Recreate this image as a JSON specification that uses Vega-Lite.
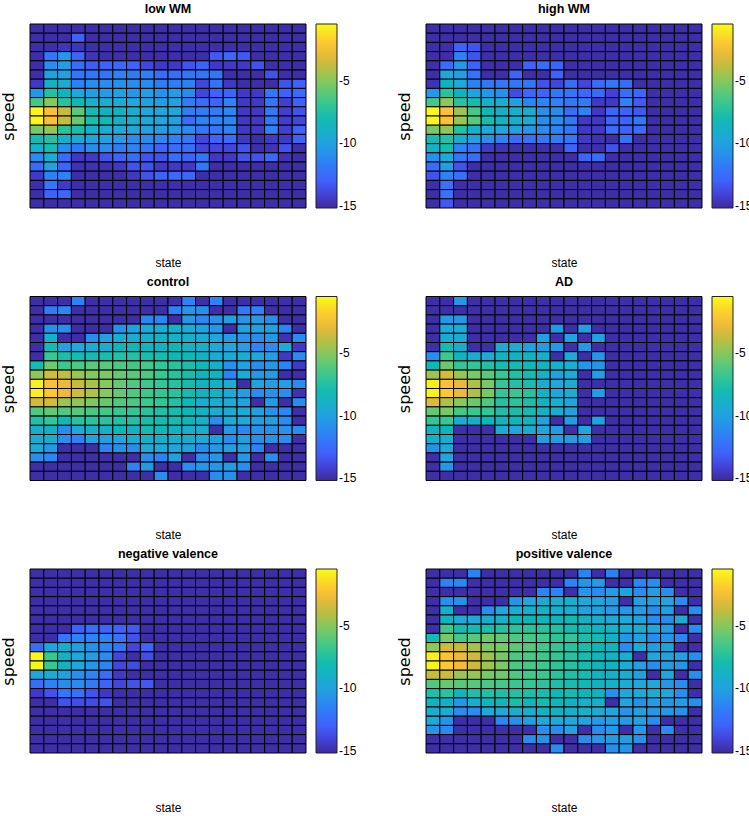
{"$schema":"https://vega.github.io/schema/vega-lite/v6.json","padding":{"left":0,"top":3,"right":0,"bottom":0},"config":{"view":{"stroke":null},"title":{"font":"Liberation Sans","fontWeight":"bold","fontSize":12.5,"color":"black","offset":8},"axis":{"labels":false,"ticks":false,"domain":false,"grid":false,"titleFontWeight":"normal","titleColor":"black"},"legend":{"gradientLength":184,"gradientThickness":21,"gradientStrokeColor":"#222","gradientStrokeWidth":1,"labelFont":"Liberation Sans","labelFontSize":12,"labelColor":"black","labelOffset":3,"orient":"none","legendX":286,"legendY":0},"rect":{"stroke":"black","strokeWidth":1}},"datasets":{
"low":[
{"state":1,"speed":1,"v":-15},{"state":2,"speed":1,"v":-15},{"state":3,"speed":1,"v":-15},{"state":4,"speed":1,"v":-15},{"state":5,"speed":1,"v":-15},{"state":6,"speed":1,"v":-15},{"state":7,"speed":1,"v":-15},{"state":8,"speed":1,"v":-15},{"state":9,"speed":1,"v":-15},{"state":10,"speed":1,"v":-15},{"state":11,"speed":1,"v":-15},{"state":12,"speed":1,"v":-15},{"state":13,"speed":1,"v":-15},{"state":14,"speed":1,"v":-15},{"state":15,"speed":1,"v":-15},{"state":16,"speed":1,"v":-15},{"state":17,"speed":1,"v":-15},{"state":18,"speed":1,"v":-15},{"state":19,"speed":1,"v":-15},{"state":20,"speed":1,"v":-15},
{"state":1,"speed":2,"v":-15},{"state":2,"speed":2,"v":-15},{"state":3,"speed":2,"v":-15},{"state":4,"speed":2,"v":-13},{"state":5,"speed":2,"v":-15},{"state":6,"speed":2,"v":-15},{"state":7,"speed":2,"v":-15},{"state":8,"speed":2,"v":-15},{"state":9,"speed":2,"v":-15},{"state":10,"speed":2,"v":-15},{"state":11,"speed":2,"v":-15},{"state":12,"speed":2,"v":-15},{"state":13,"speed":2,"v":-15},{"state":14,"speed":2,"v":-15},{"state":15,"speed":2,"v":-15},{"state":16,"speed":2,"v":-15},{"state":17,"speed":2,"v":-15},{"state":18,"speed":2,"v":-15},{"state":19,"speed":2,"v":-15},{"state":20,"speed":2,"v":-15},
{"state":1,"speed":3,"v":-15},{"state":2,"speed":3,"v":-15},{"state":3,"speed":3,"v":-14.7},{"state":4,"speed":3,"v":-14.7},{"state":5,"speed":3,"v":-15},{"state":6,"speed":3,"v":-15},{"state":7,"speed":3,"v":-15},{"state":8,"speed":3,"v":-15},{"state":9,"speed":3,"v":-15},{"state":10,"speed":3,"v":-15},{"state":11,"speed":3,"v":-15},{"state":12,"speed":3,"v":-15},{"state":13,"speed":3,"v":-15},{"state":14,"speed":3,"v":-15},{"state":15,"speed":3,"v":-15},{"state":16,"speed":3,"v":-15},{"state":17,"speed":3,"v":-15},{"state":18,"speed":3,"v":-15},{"state":19,"speed":3,"v":-15},{"state":20,"speed":3,"v":-15},
{"state":1,"speed":4,"v":-15},{"state":2,"speed":4,"v":-12},{"state":3,"speed":4,"v":-10.5},{"state":4,"speed":4,"v":-13},{"state":5,"speed":4,"v":-14.7},{"state":6,"speed":4,"v":-15},{"state":7,"speed":4,"v":-15},{"state":8,"speed":4,"v":-15},{"state":9,"speed":4,"v":-15},{"state":10,"speed":4,"v":-15},{"state":11,"speed":4,"v":-15},{"state":12,"speed":4,"v":-15},{"state":13,"speed":4,"v":-15},{"state":14,"speed":4,"v":-13.3},{"state":15,"speed":4,"v":-12.8},{"state":16,"speed":4,"v":-13.3},{"state":17,"speed":4,"v":-15},{"state":18,"speed":4,"v":-15},{"state":19,"speed":4,"v":-15},{"state":20,"speed":4,"v":-15},
{"state":1,"speed":5,"v":-15},{"state":2,"speed":5,"v":-11},{"state":3,"speed":5,"v":-10.2},{"state":4,"speed":5,"v":-12.5},{"state":5,"speed":5,"v":-13.2},{"state":6,"speed":5,"v":-13},{"state":7,"speed":5,"v":-12.7},{"state":8,"speed":5,"v":-13},{"state":9,"speed":5,"v":-14},{"state":10,"speed":5,"v":-14.5},{"state":11,"speed":5,"v":-14.5},{"state":12,"speed":5,"v":-13.5},{"state":13,"speed":5,"v":-13},{"state":14,"speed":5,"v":-14.5},{"state":15,"speed":5,"v":-14.5},{"state":16,"speed":5,"v":-14.5},{"state":17,"speed":5,"v":-13.5},{"state":18,"speed":5,"v":-15},{"state":19,"speed":5,"v":-15},{"state":20,"speed":5,"v":-15},
{"state":1,"speed":6,"v":-15},{"state":2,"speed":6,"v":-10},{"state":3,"speed":6,"v":-10},{"state":4,"speed":6,"v":-12},{"state":5,"speed":6,"v":-12},{"state":6,"speed":6,"v":-12},{"state":7,"speed":6,"v":-11.5},{"state":8,"speed":6,"v":-11.8},{"state":9,"speed":6,"v":-11.5},{"state":10,"speed":6,"v":-12.5},{"state":11,"speed":6,"v":-12.5},{"state":12,"speed":6,"v":-12},{"state":13,"speed":6,"v":-12},{"state":14,"speed":6,"v":-12},{"state":15,"speed":6,"v":-15},{"state":16,"speed":6,"v":-15},{"state":17,"speed":6,"v":-15},{"state":18,"speed":6,"v":-13.5},{"state":19,"speed":6,"v":-15},{"state":20,"speed":6,"v":-15},
{"state":1,"speed":7,"v":-14.5},{"state":2,"speed":7,"v":-8.7},{"state":3,"speed":7,"v":-9.5},{"state":4,"speed":7,"v":-11.5},{"state":5,"speed":7,"v":-11},{"state":6,"speed":7,"v":-11},{"state":7,"speed":7,"v":-10.8},{"state":8,"speed":7,"v":-11},{"state":9,"speed":7,"v":-11},{"state":10,"speed":7,"v":-11.8},{"state":11,"speed":7,"v":-11.7},{"state":12,"speed":7,"v":-11.5},{"state":13,"speed":7,"v":-14},{"state":14,"speed":7,"v":-12.2},{"state":15,"speed":7,"v":-14.5},{"state":16,"speed":7,"v":-15},{"state":17,"speed":7,"v":-15},{"state":18,"speed":7,"v":-15},{"state":19,"speed":7,"v":-13.5},{"state":20,"speed":7,"v":-13},
{"state":1,"speed":8,"v":-10.5},{"state":2,"speed":8,"v":-7.5},{"state":3,"speed":8,"v":-8.5},{"state":4,"speed":8,"v":-9.7},{"state":5,"speed":8,"v":-10.2},{"state":6,"speed":8,"v":-10.3},{"state":7,"speed":8,"v":-10},{"state":8,"speed":8,"v":-10.5},{"state":9,"speed":8,"v":-10.2},{"state":10,"speed":8,"v":-10.7},{"state":11,"speed":8,"v":-10.3},{"state":12,"speed":8,"v":-11},{"state":13,"speed":8,"v":-14},{"state":14,"speed":8,"v":-13},{"state":15,"speed":8,"v":-13},{"state":16,"speed":8,"v":-14.5},{"state":17,"speed":8,"v":-14.5},{"state":18,"speed":8,"v":-12},{"state":19,"speed":8,"v":-13},{"state":20,"speed":8,"v":-12.5},
{"state":1,"speed":9,"v":-6.5},{"state":2,"speed":9,"v":-5},{"state":3,"speed":9,"v":-7.3},{"state":4,"speed":9,"v":-8.2},{"state":5,"speed":9,"v":-9},{"state":6,"speed":9,"v":-9.2},{"state":7,"speed":9,"v":-9.5},{"state":8,"speed":9,"v":-9.7},{"state":9,"speed":9,"v":-10},{"state":10,"speed":9,"v":-10.2},{"state":11,"speed":9,"v":-10},{"state":12,"speed":9,"v":-11.8},{"state":13,"speed":9,"v":-12.5},{"state":14,"speed":9,"v":-13},{"state":15,"speed":9,"v":-11.5},{"state":16,"speed":9,"v":-14.5},{"state":17,"speed":9,"v":-14.5},{"state":18,"speed":9,"v":-12},{"state":19,"speed":9,"v":-14.3},{"state":20,"speed":9,"v":-13},
{"state":1,"speed":10,"v":-0.6},{"state":2,"speed":10,"v":-2.2},{"state":3,"speed":10,"v":-3.8},{"state":4,"speed":10,"v":-6},{"state":5,"speed":10,"v":-8},{"state":6,"speed":10,"v":-8.5},{"state":7,"speed":10,"v":-8.8},{"state":8,"speed":10,"v":-9.2},{"state":9,"speed":10,"v":-9.7},{"state":10,"speed":10,"v":-9.8},{"state":11,"speed":10,"v":-9.8},{"state":12,"speed":10,"v":-11.7},{"state":13,"speed":10,"v":-11.8},{"state":14,"speed":10,"v":-11.8},{"state":15,"speed":10,"v":-11.3},{"state":16,"speed":10,"v":-14.5},{"state":17,"speed":10,"v":-14.5},{"state":18,"speed":10,"v":-12},{"state":19,"speed":10,"v":-14.3},{"state":20,"speed":10,"v":-13.5},
{"state":1,"speed":11,"v":-0.6},{"state":2,"speed":11,"v":-2.2},{"state":3,"speed":11,"v":-3.8},{"state":4,"speed":11,"v":-5.7},{"state":5,"speed":11,"v":-7.7},{"state":6,"speed":11,"v":-8.2},{"state":7,"speed":11,"v":-8.7},{"state":8,"speed":11,"v":-9},{"state":9,"speed":11,"v":-9.5},{"state":10,"speed":11,"v":-9.8},{"state":11,"speed":11,"v":-10},{"state":12,"speed":11,"v":-12.5},{"state":13,"speed":11,"v":-11.5},{"state":14,"speed":11,"v":-11.5},{"state":15,"speed":11,"v":-11.3},{"state":16,"speed":11,"v":-14.5},{"state":17,"speed":11,"v":-14.5},{"state":18,"speed":11,"v":-12},{"state":19,"speed":11,"v":-14.3},{"state":20,"speed":11,"v":-14},
{"state":1,"speed":12,"v":-5.3},{"state":2,"speed":12,"v":-4.7},{"state":3,"speed":12,"v":-7.3},{"state":4,"speed":12,"v":-7.8},{"state":5,"speed":12,"v":-9},{"state":6,"speed":12,"v":-9.2},{"state":7,"speed":12,"v":-9.5},{"state":8,"speed":12,"v":-9.7},{"state":9,"speed":12,"v":-10},{"state":10,"speed":12,"v":-10.2},{"state":11,"speed":12,"v":-10.4},{"state":12,"speed":12,"v":-11},{"state":13,"speed":12,"v":-12},{"state":14,"speed":12,"v":-12},{"state":15,"speed":12,"v":-11.5},{"state":16,"speed":12,"v":-14.5},{"state":17,"speed":12,"v":-14.5},{"state":18,"speed":12,"v":-11.5},{"state":19,"speed":12,"v":-14.3},{"state":20,"speed":12,"v":-13},
{"state":1,"speed":13,"v":-8},{"state":2,"speed":13,"v":-7.5},{"state":3,"speed":13,"v":-9},{"state":4,"speed":13,"v":-9.5},{"state":5,"speed":13,"v":-10},{"state":6,"speed":13,"v":-10},{"state":7,"speed":13,"v":-10.3},{"state":8,"speed":13,"v":-11},{"state":9,"speed":13,"v":-11},{"state":10,"speed":13,"v":-11.2},{"state":11,"speed":13,"v":-11.5},{"state":12,"speed":13,"v":-12},{"state":13,"speed":13,"v":-14},{"state":14,"speed":13,"v":-13},{"state":15,"speed":13,"v":-12.5},{"state":16,"speed":13,"v":-14.5},{"state":17,"speed":13,"v":-15},{"state":18,"speed":13,"v":-14.5},{"state":19,"speed":13,"v":-14.5},{"state":20,"speed":13,"v":-13},
{"state":1,"speed":14,"v":-9},{"state":2,"speed":14,"v":-8},{"state":3,"speed":14,"v":-11},{"state":4,"speed":14,"v":-12},{"state":5,"speed":14,"v":-11},{"state":6,"speed":14,"v":-11},{"state":7,"speed":14,"v":-11.8},{"state":8,"speed":14,"v":-11.5},{"state":9,"speed":14,"v":-12},{"state":10,"speed":14,"v":-13},{"state":11,"speed":14,"v":-12.5},{"state":12,"speed":14,"v":-12.5},{"state":13,"speed":14,"v":-14},{"state":14,"speed":14,"v":-14},{"state":15,"speed":14,"v":-14},{"state":16,"speed":14,"v":-13.5},{"state":17,"speed":14,"v":-15},{"state":18,"speed":14,"v":-14.7},{"state":19,"speed":14,"v":-13.5},{"state":20,"speed":14,"v":-15},
{"state":1,"speed":15,"v":-11},{"state":2,"speed":15,"v":-9.2},{"state":3,"speed":15,"v":-12.5},{"state":4,"speed":15,"v":-14.5},{"state":5,"speed":15,"v":-14.5},{"state":6,"speed":15,"v":-13.5},{"state":7,"speed":15,"v":-13},{"state":8,"speed":15,"v":-12.5},{"state":9,"speed":15,"v":-13.5},{"state":10,"speed":15,"v":-13.5},{"state":11,"speed":15,"v":-12.5},{"state":12,"speed":15,"v":-13},{"state":13,"speed":15,"v":-12},{"state":14,"speed":15,"v":-14.5},{"state":15,"speed":15,"v":-14.5},{"state":16,"speed":15,"v":-13.5},{"state":17,"speed":15,"v":-13.5},{"state":18,"speed":15,"v":-12.8},{"state":19,"speed":15,"v":-14.8},{"state":20,"speed":15,"v":-15},
{"state":1,"speed":16,"v":-12.5},{"state":2,"speed":16,"v":-10},{"state":3,"speed":16,"v":-13},{"state":4,"speed":16,"v":-14.8},{"state":5,"speed":16,"v":-14.8},{"state":6,"speed":16,"v":-14.8},{"state":7,"speed":16,"v":-14.5},{"state":8,"speed":16,"v":-13.5},{"state":9,"speed":16,"v":-13.5},{"state":10,"speed":16,"v":-14.5},{"state":11,"speed":16,"v":-14.5},{"state":12,"speed":16,"v":-14.5},{"state":13,"speed":16,"v":-12},{"state":14,"speed":16,"v":-15},{"state":15,"speed":16,"v":-15},{"state":16,"speed":16,"v":-15},{"state":17,"speed":16,"v":-15},{"state":18,"speed":16,"v":-15},{"state":19,"speed":16,"v":-15},{"state":20,"speed":16,"v":-15},
{"state":1,"speed":17,"v":-14.5},{"state":2,"speed":17,"v":-11.5},{"state":3,"speed":17,"v":-11.5},{"state":4,"speed":17,"v":-15},{"state":5,"speed":17,"v":-15},{"state":6,"speed":17,"v":-15},{"state":7,"speed":17,"v":-15},{"state":8,"speed":17,"v":-14.5},{"state":9,"speed":17,"v":-13.5},{"state":10,"speed":17,"v":-13},{"state":11,"speed":17,"v":-12.8},{"state":12,"speed":17,"v":-12.8},{"state":13,"speed":17,"v":-15},{"state":14,"speed":17,"v":-15},{"state":15,"speed":17,"v":-15},{"state":16,"speed":17,"v":-15},{"state":17,"speed":17,"v":-15},{"state":18,"speed":17,"v":-15},{"state":19,"speed":17,"v":-15},{"state":20,"speed":17,"v":-15},
{"state":1,"speed":18,"v":-15},{"state":2,"speed":18,"v":-12},{"state":3,"speed":18,"v":-14.5},{"state":4,"speed":18,"v":-15},{"state":5,"speed":18,"v":-15},{"state":6,"speed":18,"v":-15},{"state":7,"speed":18,"v":-15},{"state":8,"speed":18,"v":-15},{"state":9,"speed":18,"v":-15},{"state":10,"speed":18,"v":-15},{"state":11,"speed":18,"v":-15},{"state":12,"speed":18,"v":-15},{"state":13,"speed":18,"v":-15},{"state":14,"speed":18,"v":-15},{"state":15,"speed":18,"v":-15},{"state":16,"speed":18,"v":-15},{"state":17,"speed":18,"v":-15},{"state":18,"speed":18,"v":-15},{"state":19,"speed":18,"v":-15},{"state":20,"speed":18,"v":-15},
{"state":1,"speed":19,"v":-15},{"state":2,"speed":19,"v":-13},{"state":3,"speed":19,"v":-12.8},{"state":4,"speed":19,"v":-15},{"state":5,"speed":19,"v":-15},{"state":6,"speed":19,"v":-15},{"state":7,"speed":19,"v":-15},{"state":8,"speed":19,"v":-15},{"state":9,"speed":19,"v":-15},{"state":10,"speed":19,"v":-15},{"state":11,"speed":19,"v":-15},{"state":12,"speed":19,"v":-15},{"state":13,"speed":19,"v":-15},{"state":14,"speed":19,"v":-15},{"state":15,"speed":19,"v":-15},{"state":16,"speed":19,"v":-15},{"state":17,"speed":19,"v":-15},{"state":18,"speed":19,"v":-15},{"state":19,"speed":19,"v":-15},{"state":20,"speed":19,"v":-15},
{"state":1,"speed":20,"v":-15},{"state":2,"speed":20,"v":-15},{"state":3,"speed":20,"v":-15},{"state":4,"speed":20,"v":-15},{"state":5,"speed":20,"v":-15},{"state":6,"speed":20,"v":-15},{"state":7,"speed":20,"v":-15},{"state":8,"speed":20,"v":-15},{"state":9,"speed":20,"v":-15},{"state":10,"speed":20,"v":-15},{"state":11,"speed":20,"v":-15},{"state":12,"speed":20,"v":-15},{"state":13,"speed":20,"v":-15},{"state":14,"speed":20,"v":-15},{"state":15,"speed":20,"v":-15},{"state":16,"speed":20,"v":-15},{"state":17,"speed":20,"v":-15},{"state":18,"speed":20,"v":-15},{"state":19,"speed":20,"v":-15},{"state":20,"speed":20,"v":-15}
],
"high":[
{"state":1,"speed":1,"v":-15},{"state":2,"speed":1,"v":-15},{"state":3,"speed":1,"v":-15},{"state":4,"speed":1,"v":-15},{"state":5,"speed":1,"v":-15},{"state":6,"speed":1,"v":-15},{"state":7,"speed":1,"v":-15},{"state":8,"speed":1,"v":-15},{"state":9,"speed":1,"v":-15},{"state":10,"speed":1,"v":-15},{"state":11,"speed":1,"v":-15},{"state":12,"speed":1,"v":-15},{"state":13,"speed":1,"v":-15},{"state":14,"speed":1,"v":-15},{"state":15,"speed":1,"v":-15},{"state":16,"speed":1,"v":-15},{"state":17,"speed":1,"v":-15},{"state":18,"speed":1,"v":-15},{"state":19,"speed":1,"v":-15},{"state":20,"speed":1,"v":-15},
{"state":1,"speed":2,"v":-15},{"state":2,"speed":2,"v":-15},{"state":3,"speed":2,"v":-15},{"state":4,"speed":2,"v":-15},{"state":5,"speed":2,"v":-15},{"state":6,"speed":2,"v":-15},{"state":7,"speed":2,"v":-15},{"state":8,"speed":2,"v":-15},{"state":9,"speed":2,"v":-15},{"state":10,"speed":2,"v":-15},{"state":11,"speed":2,"v":-15},{"state":12,"speed":2,"v":-15},{"state":13,"speed":2,"v":-15},{"state":14,"speed":2,"v":-15},{"state":15,"speed":2,"v":-15},{"state":16,"speed":2,"v":-15},{"state":17,"speed":2,"v":-15},{"state":18,"speed":2,"v":-15},{"state":19,"speed":2,"v":-15},{"state":20,"speed":2,"v":-15},
{"state":1,"speed":3,"v":-15},{"state":2,"speed":3,"v":-15},{"state":3,"speed":3,"v":-13},{"state":4,"speed":3,"v":-13.5},{"state":5,"speed":3,"v":-15},{"state":6,"speed":3,"v":-15},{"state":7,"speed":3,"v":-15},{"state":8,"speed":3,"v":-15},{"state":9,"speed":3,"v":-15},{"state":10,"speed":3,"v":-15},{"state":11,"speed":3,"v":-15},{"state":12,"speed":3,"v":-15},{"state":13,"speed":3,"v":-15},{"state":14,"speed":3,"v":-15},{"state":15,"speed":3,"v":-15},{"state":16,"speed":3,"v":-15},{"state":17,"speed":3,"v":-15},{"state":18,"speed":3,"v":-15},{"state":19,"speed":3,"v":-15},{"state":20,"speed":3,"v":-15},
{"state":1,"speed":4,"v":-15},{"state":2,"speed":4,"v":-15},{"state":3,"speed":4,"v":-11.5},{"state":4,"speed":4,"v":-13.5},{"state":5,"speed":4,"v":-15},{"state":6,"speed":4,"v":-15},{"state":7,"speed":4,"v":-15},{"state":8,"speed":4,"v":-15},{"state":9,"speed":4,"v":-15},{"state":10,"speed":4,"v":-15},{"state":11,"speed":4,"v":-15},{"state":12,"speed":4,"v":-15},{"state":13,"speed":4,"v":-15},{"state":14,"speed":4,"v":-15},{"state":15,"speed":4,"v":-15},{"state":16,"speed":4,"v":-15},{"state":17,"speed":4,"v":-15},{"state":18,"speed":4,"v":-15},{"state":19,"speed":4,"v":-15},{"state":20,"speed":4,"v":-15},
{"state":1,"speed":5,"v":-15},{"state":2,"speed":5,"v":-12.5},{"state":3,"speed":5,"v":-10.5},{"state":4,"speed":5,"v":-13},{"state":5,"speed":5,"v":-15},{"state":6,"speed":5,"v":-15},{"state":7,"speed":5,"v":-15},{"state":8,"speed":5,"v":-13},{"state":9,"speed":5,"v":-12.5},{"state":10,"speed":5,"v":-13},{"state":11,"speed":5,"v":-15},{"state":12,"speed":5,"v":-15},{"state":13,"speed":5,"v":-15},{"state":14,"speed":5,"v":-15},{"state":15,"speed":5,"v":-15},{"state":16,"speed":5,"v":-15},{"state":17,"speed":5,"v":-15},{"state":18,"speed":5,"v":-15},{"state":19,"speed":5,"v":-15},{"state":20,"speed":5,"v":-15},
{"state":1,"speed":6,"v":-15},{"state":2,"speed":6,"v":-9.8},{"state":3,"speed":6,"v":-10.2},{"state":4,"speed":6,"v":-12.2},{"state":5,"speed":6,"v":-15},{"state":6,"speed":6,"v":-15},{"state":7,"speed":6,"v":-13},{"state":8,"speed":6,"v":-15},{"state":9,"speed":6,"v":-15},{"state":10,"speed":6,"v":-13},{"state":11,"speed":6,"v":-15},{"state":12,"speed":6,"v":-15},{"state":13,"speed":6,"v":-15},{"state":14,"speed":6,"v":-15},{"state":15,"speed":6,"v":-15},{"state":16,"speed":6,"v":-15},{"state":17,"speed":6,"v":-15},{"state":18,"speed":6,"v":-15},{"state":19,"speed":6,"v":-15},{"state":20,"speed":6,"v":-15},
{"state":1,"speed":7,"v":-14.8},{"state":2,"speed":7,"v":-8.5},{"state":3,"speed":7,"v":-9.5},{"state":4,"speed":7,"v":-11.5},{"state":5,"speed":7,"v":-12},{"state":6,"speed":7,"v":-12},{"state":7,"speed":7,"v":-12},{"state":8,"speed":7,"v":-12},{"state":9,"speed":7,"v":-13.5},{"state":10,"speed":7,"v":-14},{"state":11,"speed":7,"v":-12.5},{"state":12,"speed":7,"v":-14},{"state":13,"speed":7,"v":-12.5},{"state":14,"speed":7,"v":-12},{"state":15,"speed":7,"v":-12.5},{"state":16,"speed":7,"v":-15},{"state":17,"speed":7,"v":-15},{"state":18,"speed":7,"v":-15},{"state":19,"speed":7,"v":-15},{"state":20,"speed":7,"v":-15},
{"state":1,"speed":8,"v":-10.5},{"state":2,"speed":8,"v":-7.3},{"state":3,"speed":8,"v":-8.5},{"state":4,"speed":8,"v":-10},{"state":5,"speed":8,"v":-10.5},{"state":6,"speed":8,"v":-10.8},{"state":7,"speed":8,"v":-13.8},{"state":8,"speed":8,"v":-12.8},{"state":9,"speed":8,"v":-13},{"state":10,"speed":8,"v":-12},{"state":11,"speed":8,"v":-12.2},{"state":12,"speed":8,"v":-12.8},{"state":13,"speed":8,"v":-12.5},{"state":14,"speed":8,"v":-14.2},{"state":15,"speed":8,"v":-12.5},{"state":16,"speed":8,"v":-12.8},{"state":17,"speed":8,"v":-15},{"state":18,"speed":8,"v":-15},{"state":19,"speed":8,"v":-15},{"state":20,"speed":8,"v":-15},
{"state":1,"speed":9,"v":-6.5},{"state":2,"speed":9,"v":-4.8},{"state":3,"speed":9,"v":-7.3},{"state":4,"speed":9,"v":-8},{"state":5,"speed":9,"v":-9},{"state":6,"speed":9,"v":-9.3},{"state":7,"speed":9,"v":-10},{"state":8,"speed":9,"v":-11.3},{"state":9,"speed":9,"v":-11.3},{"state":10,"speed":9,"v":-11.5},{"state":11,"speed":9,"v":-12},{"state":12,"speed":9,"v":-11.8},{"state":13,"speed":9,"v":-14.5},{"state":14,"speed":9,"v":-14.5},{"state":15,"speed":9,"v":-11.5},{"state":16,"speed":9,"v":-13.3},{"state":17,"speed":9,"v":-15},{"state":18,"speed":9,"v":-15},{"state":19,"speed":9,"v":-15},{"state":20,"speed":9,"v":-15},
{"state":1,"speed":10,"v":-0.6},{"state":2,"speed":10,"v":-2.2},{"state":3,"speed":10,"v":-4.5},{"state":4,"speed":10,"v":-6.5},{"state":5,"speed":10,"v":-8.2},{"state":6,"speed":10,"v":-8.8},{"state":7,"speed":10,"v":-9},{"state":8,"speed":10,"v":-9.2},{"state":9,"speed":10,"v":-10.8},{"state":10,"speed":10,"v":-11},{"state":11,"speed":10,"v":-12.5},{"state":12,"speed":10,"v":-11.5},{"state":13,"speed":10,"v":-14.5},{"state":14,"speed":10,"v":-13},{"state":15,"speed":10,"v":-13},{"state":16,"speed":10,"v":-13.3},{"state":17,"speed":10,"v":-15},{"state":18,"speed":10,"v":-15},{"state":19,"speed":10,"v":-15},{"state":20,"speed":10,"v":-15},
{"state":1,"speed":11,"v":-0.6},{"state":2,"speed":11,"v":-2.2},{"state":3,"speed":11,"v":-4.6},{"state":4,"speed":11,"v":-6},{"state":5,"speed":11,"v":-8},{"state":6,"speed":11,"v":-8.8},{"state":7,"speed":11,"v":-9},{"state":8,"speed":11,"v":-9.5},{"state":9,"speed":11,"v":-11},{"state":10,"speed":11,"v":-11},{"state":11,"speed":11,"v":-12},{"state":12,"speed":11,"v":-14.5},{"state":13,"speed":11,"v":-14.5},{"state":14,"speed":11,"v":-13},{"state":15,"speed":11,"v":-13},{"state":16,"speed":11,"v":-12},{"state":17,"speed":11,"v":-15},{"state":18,"speed":11,"v":-15},{"state":19,"speed":11,"v":-15},{"state":20,"speed":11,"v":-15},
{"state":1,"speed":12,"v":-5.3},{"state":2,"speed":12,"v":-4.8},{"state":3,"speed":12,"v":-7.5},{"state":4,"speed":12,"v":-9},{"state":5,"speed":12,"v":-9.5},{"state":6,"speed":12,"v":-9.8},{"state":7,"speed":12,"v":-10},{"state":8,"speed":12,"v":-10.5},{"state":9,"speed":12,"v":-11},{"state":10,"speed":12,"v":-11.3},{"state":11,"speed":12,"v":-12},{"state":12,"speed":12,"v":-14.5},{"state":13,"speed":12,"v":-14.5},{"state":14,"speed":12,"v":-12.5},{"state":15,"speed":12,"v":-13},{"state":16,"speed":12,"v":-12.5},{"state":17,"speed":12,"v":-15},{"state":18,"speed":12,"v":-15},{"state":19,"speed":12,"v":-15},{"state":20,"speed":12,"v":-15},
{"state":1,"speed":13,"v":-8},{"state":2,"speed":13,"v":-7.5},{"state":3,"speed":13,"v":-9},{"state":4,"speed":13,"v":-10.2},{"state":5,"speed":13,"v":-10.8},{"state":6,"speed":13,"v":-11.5},{"state":7,"speed":13,"v":-12.5},{"state":8,"speed":13,"v":-12.3},{"state":9,"speed":13,"v":-12},{"state":10,"speed":13,"v":-11.8},{"state":11,"speed":13,"v":-12},{"state":12,"speed":13,"v":-14.5},{"state":13,"speed":13,"v":-14.8},{"state":14,"speed":13,"v":-15},{"state":15,"speed":13,"v":-12.3},{"state":16,"speed":13,"v":-15},{"state":17,"speed":13,"v":-15},{"state":18,"speed":13,"v":-15},{"state":19,"speed":13,"v":-15},{"state":20,"speed":13,"v":-15},
{"state":1,"speed":14,"v":-9},{"state":2,"speed":14,"v":-8},{"state":3,"speed":14,"v":-11.5},{"state":4,"speed":14,"v":-12.3},{"state":5,"speed":14,"v":-14.5},{"state":6,"speed":14,"v":-14.8},{"state":7,"speed":14,"v":-15},{"state":8,"speed":14,"v":-15},{"state":9,"speed":14,"v":-15},{"state":10,"speed":14,"v":-15},{"state":11,"speed":14,"v":-13},{"state":12,"speed":14,"v":-15},{"state":13,"speed":14,"v":-15},{"state":14,"speed":14,"v":-13.5},{"state":15,"speed":14,"v":-15},{"state":16,"speed":14,"v":-15},{"state":17,"speed":14,"v":-15},{"state":18,"speed":14,"v":-15},{"state":19,"speed":14,"v":-15},{"state":20,"speed":14,"v":-15},
{"state":1,"speed":15,"v":-10.8},{"state":2,"speed":15,"v":-9.5},{"state":3,"speed":15,"v":-12},{"state":4,"speed":15,"v":-12.5},{"state":5,"speed":15,"v":-15},{"state":6,"speed":15,"v":-15},{"state":7,"speed":15,"v":-15},{"state":8,"speed":15,"v":-15},{"state":9,"speed":15,"v":-15},{"state":10,"speed":15,"v":-15},{"state":11,"speed":15,"v":-15},{"state":12,"speed":15,"v":-13},{"state":13,"speed":15,"v":-12.5},{"state":14,"speed":15,"v":-15},{"state":15,"speed":15,"v":-15},{"state":16,"speed":15,"v":-15},{"state":17,"speed":15,"v":-15},{"state":18,"speed":15,"v":-15},{"state":19,"speed":15,"v":-15},{"state":20,"speed":15,"v":-15},
{"state":1,"speed":16,"v":-12.5},{"state":2,"speed":16,"v":-10.3},{"state":3,"speed":16,"v":-13.5},{"state":4,"speed":16,"v":-15},{"state":5,"speed":16,"v":-15},{"state":6,"speed":16,"v":-15},{"state":7,"speed":16,"v":-15},{"state":8,"speed":16,"v":-15},{"state":9,"speed":16,"v":-15},{"state":10,"speed":16,"v":-15},{"state":11,"speed":16,"v":-15},{"state":12,"speed":16,"v":-15},{"state":13,"speed":16,"v":-15},{"state":14,"speed":16,"v":-15},{"state":15,"speed":16,"v":-15},{"state":16,"speed":16,"v":-15},{"state":17,"speed":16,"v":-15},{"state":18,"speed":16,"v":-15},{"state":19,"speed":16,"v":-15},{"state":20,"speed":16,"v":-15},
{"state":1,"speed":17,"v":-13.5},{"state":2,"speed":17,"v":-11.5},{"state":3,"speed":17,"v":-12.3},{"state":4,"speed":17,"v":-15},{"state":5,"speed":17,"v":-15},{"state":6,"speed":17,"v":-15},{"state":7,"speed":17,"v":-15},{"state":8,"speed":17,"v":-15},{"state":9,"speed":17,"v":-15},{"state":10,"speed":17,"v":-15},{"state":11,"speed":17,"v":-15},{"state":12,"speed":17,"v":-15},{"state":13,"speed":17,"v":-15},{"state":14,"speed":17,"v":-15},{"state":15,"speed":17,"v":-15},{"state":16,"speed":17,"v":-15},{"state":17,"speed":17,"v":-15},{"state":18,"speed":17,"v":-15},{"state":19,"speed":17,"v":-15},{"state":20,"speed":17,"v":-15},
{"state":1,"speed":18,"v":-15},{"state":2,"speed":18,"v":-12.3},{"state":3,"speed":18,"v":-15},{"state":4,"speed":18,"v":-15},{"state":5,"speed":18,"v":-15},{"state":6,"speed":18,"v":-15},{"state":7,"speed":18,"v":-15},{"state":8,"speed":18,"v":-15},{"state":9,"speed":18,"v":-15},{"state":10,"speed":18,"v":-15},{"state":11,"speed":18,"v":-15},{"state":12,"speed":18,"v":-15},{"state":13,"speed":18,"v":-15},{"state":14,"speed":18,"v":-15},{"state":15,"speed":18,"v":-15},{"state":16,"speed":18,"v":-15},{"state":17,"speed":18,"v":-15},{"state":18,"speed":18,"v":-15},{"state":19,"speed":18,"v":-15},{"state":20,"speed":18,"v":-15},
{"state":1,"speed":19,"v":-15},{"state":2,"speed":19,"v":-12.2},{"state":3,"speed":19,"v":-15},{"state":4,"speed":19,"v":-15},{"state":5,"speed":19,"v":-15},{"state":6,"speed":19,"v":-15},{"state":7,"speed":19,"v":-15},{"state":8,"speed":19,"v":-15},{"state":9,"speed":19,"v":-15},{"state":10,"speed":19,"v":-15},{"state":11,"speed":19,"v":-15},{"state":12,"speed":19,"v":-15},{"state":13,"speed":19,"v":-15},{"state":14,"speed":19,"v":-15},{"state":15,"speed":19,"v":-15},{"state":16,"speed":19,"v":-15},{"state":17,"speed":19,"v":-15},{"state":18,"speed":19,"v":-15},{"state":19,"speed":19,"v":-15},{"state":20,"speed":19,"v":-15},
{"state":1,"speed":20,"v":-15},{"state":2,"speed":20,"v":-13.3},{"state":3,"speed":20,"v":-15},{"state":4,"speed":20,"v":-15},{"state":5,"speed":20,"v":-15},{"state":6,"speed":20,"v":-15},{"state":7,"speed":20,"v":-15},{"state":8,"speed":20,"v":-15},{"state":9,"speed":20,"v":-15},{"state":10,"speed":20,"v":-15},{"state":11,"speed":20,"v":-15},{"state":12,"speed":20,"v":-15},{"state":13,"speed":20,"v":-15},{"state":14,"speed":20,"v":-15},{"state":15,"speed":20,"v":-15},{"state":16,"speed":20,"v":-15},{"state":17,"speed":20,"v":-15},{"state":18,"speed":20,"v":-15},{"state":19,"speed":20,"v":-15},{"state":20,"speed":20,"v":-15}
],
"control":[
{"state":1,"speed":1,"v":-15},{"state":2,"speed":1,"v":-15},{"state":3,"speed":1,"v":-15},{"state":4,"speed":1,"v":-11.5},{"state":5,"speed":1,"v":-15},{"state":6,"speed":1,"v":-15},{"state":7,"speed":1,"v":-15},{"state":8,"speed":1,"v":-15},{"state":9,"speed":1,"v":-15},{"state":10,"speed":1,"v":-15},{"state":11,"speed":1,"v":-15},{"state":12,"speed":1,"v":-11.5},{"state":13,"speed":1,"v":-15},{"state":14,"speed":1,"v":-11.5},{"state":15,"speed":1,"v":-15},{"state":16,"speed":1,"v":-15},{"state":17,"speed":1,"v":-15},{"state":18,"speed":1,"v":-15},{"state":19,"speed":1,"v":-15},{"state":20,"speed":1,"v":-15},
{"state":1,"speed":2,"v":-15},{"state":2,"speed":2,"v":-11.8},{"state":3,"speed":2,"v":-11.2},{"state":4,"speed":2,"v":-15},{"state":5,"speed":2,"v":-15},{"state":6,"speed":2,"v":-15},{"state":7,"speed":2,"v":-15},{"state":8,"speed":2,"v":-15},{"state":9,"speed":2,"v":-15},{"state":10,"speed":2,"v":-15},{"state":11,"speed":2,"v":-11.5},{"state":12,"speed":2,"v":-10.5},{"state":13,"speed":2,"v":-10.8},{"state":14,"speed":2,"v":-15},{"state":15,"speed":2,"v":-15},{"state":16,"speed":2,"v":-12},{"state":17,"speed":2,"v":-11.5},{"state":18,"speed":2,"v":-15},{"state":19,"speed":2,"v":-15},{"state":20,"speed":2,"v":-15},
{"state":1,"speed":3,"v":-15},{"state":2,"speed":3,"v":-15},{"state":3,"speed":3,"v":-15},{"state":4,"speed":3,"v":-15},{"state":5,"speed":3,"v":-15},{"state":6,"speed":3,"v":-15},{"state":7,"speed":3,"v":-15},{"state":8,"speed":3,"v":-15},{"state":9,"speed":3,"v":-11.3},{"state":10,"speed":3,"v":-11.3},{"state":11,"speed":3,"v":-15},{"state":12,"speed":3,"v":-10.5},{"state":13,"speed":3,"v":-11.2},{"state":14,"speed":3,"v":-10.7},{"state":15,"speed":3,"v":-10.2},{"state":16,"speed":3,"v":-10.7},{"state":17,"speed":3,"v":-10.3},{"state":18,"speed":3,"v":-11},{"state":19,"speed":3,"v":-15},{"state":20,"speed":3,"v":-15},
{"state":1,"speed":4,"v":-15},{"state":2,"speed":4,"v":-11},{"state":3,"speed":4,"v":-11},{"state":4,"speed":4,"v":-15},{"state":5,"speed":4,"v":-15},{"state":6,"speed":4,"v":-15},{"state":7,"speed":4,"v":-10.8},{"state":8,"speed":4,"v":-10},{"state":9,"speed":4,"v":-9.5},{"state":10,"speed":4,"v":-9.5},{"state":11,"speed":4,"v":-9},{"state":12,"speed":4,"v":-9.5},{"state":13,"speed":4,"v":-10},{"state":14,"speed":4,"v":-10.5},{"state":15,"speed":4,"v":-15},{"state":16,"speed":4,"v":-10},{"state":17,"speed":4,"v":-10},{"state":18,"speed":4,"v":-10},{"state":19,"speed":4,"v":-11.5},{"state":20,"speed":4,"v":-15},
{"state":1,"speed":5,"v":-15},{"state":2,"speed":5,"v":-9},{"state":3,"speed":5,"v":-15},{"state":4,"speed":5,"v":-15},{"state":5,"speed":5,"v":-11},{"state":6,"speed":5,"v":-10},{"state":7,"speed":5,"v":-9.3},{"state":8,"speed":5,"v":-9.2},{"state":9,"speed":5,"v":-9},{"state":10,"speed":5,"v":-8.8},{"state":11,"speed":5,"v":-9},{"state":12,"speed":5,"v":-9},{"state":13,"speed":5,"v":-9.5},{"state":14,"speed":5,"v":-9.8},{"state":15,"speed":5,"v":-10.3},{"state":16,"speed":5,"v":-10.7},{"state":17,"speed":5,"v":-11},{"state":18,"speed":5,"v":-10.5},{"state":19,"speed":5,"v":-14.8},{"state":20,"speed":5,"v":-11},
{"state":1,"speed":6,"v":-15},{"state":2,"speed":6,"v":-8},{"state":3,"speed":6,"v":-10},{"state":4,"speed":6,"v":-9.7},{"state":5,"speed":6,"v":-9.5},{"state":6,"speed":6,"v":-9.3},{"state":7,"speed":6,"v":-8.5},{"state":8,"speed":6,"v":-8.3},{"state":9,"speed":6,"v":-8.5},{"state":10,"speed":6,"v":-8.5},{"state":11,"speed":6,"v":-8.3},{"state":12,"speed":6,"v":-8.7},{"state":13,"speed":6,"v":-9},{"state":14,"speed":6,"v":-9.5},{"state":15,"speed":6,"v":-9.7},{"state":16,"speed":6,"v":-10.2},{"state":17,"speed":6,"v":-11.3},{"state":18,"speed":6,"v":-11},{"state":19,"speed":6,"v":-9.5},{"state":20,"speed":6,"v":-14.5},
{"state":1,"speed":7,"v":-15},{"state":2,"speed":7,"v":-6.8},{"state":3,"speed":7,"v":-7.7},{"state":4,"speed":7,"v":-8},{"state":5,"speed":7,"v":-8},{"state":6,"speed":7,"v":-7.8},{"state":7,"speed":7,"v":-7.5},{"state":8,"speed":7,"v":-7.5},{"state":9,"speed":7,"v":-7.8},{"state":10,"speed":7,"v":-8},{"state":11,"speed":7,"v":-8.2},{"state":12,"speed":7,"v":-8.2},{"state":13,"speed":7,"v":-8.7},{"state":14,"speed":7,"v":-9.5},{"state":15,"speed":7,"v":-9.5},{"state":16,"speed":7,"v":-9.2},{"state":17,"speed":7,"v":-9.7},{"state":18,"speed":7,"v":-10.2},{"state":19,"speed":7,"v":-14.5},{"state":20,"speed":7,"v":-11},
{"state":1,"speed":8,"v":-8},{"state":2,"speed":8,"v":-5.5},{"state":3,"speed":8,"v":-6.7},{"state":4,"speed":8,"v":-6.3},{"state":5,"speed":8,"v":-6},{"state":6,"speed":8,"v":-6},{"state":7,"speed":8,"v":-6.3},{"state":8,"speed":8,"v":-6.5},{"state":9,"speed":8,"v":-6.5},{"state":10,"speed":8,"v":-7},{"state":11,"speed":8,"v":-7.3},{"state":12,"speed":8,"v":-7.7},{"state":13,"speed":8,"v":-8.1},{"state":14,"speed":8,"v":-9},{"state":15,"speed":8,"v":-10.8},{"state":16,"speed":8,"v":-10},{"state":17,"speed":8,"v":-11},{"state":18,"speed":8,"v":-10.5},{"state":19,"speed":8,"v":-11.5},{"state":20,"speed":8,"v":-14.5},
{"state":1,"speed":9,"v":-4.8},{"state":2,"speed":9,"v":-3.5},{"state":3,"speed":9,"v":-3.8},{"state":4,"speed":9,"v":-4.6},{"state":5,"speed":9,"v":-5},{"state":6,"speed":9,"v":-5.2},{"state":7,"speed":9,"v":-5.7},{"state":8,"speed":9,"v":-6},{"state":9,"speed":9,"v":-6.3},{"state":10,"speed":9,"v":-6.8},{"state":11,"speed":9,"v":-7.3},{"state":12,"speed":9,"v":-7.8},{"state":13,"speed":9,"v":-8.5},{"state":14,"speed":9,"v":-8.5},{"state":15,"speed":9,"v":-11.5},{"state":16,"speed":9,"v":-9.5},{"state":17,"speed":9,"v":-10.5},{"state":18,"speed":9,"v":-10.3},{"state":19,"speed":9,"v":-15},{"state":20,"speed":9,"v":-15},
{"state":1,"speed":10,"v":-0.8},{"state":2,"speed":10,"v":-2.2},{"state":3,"speed":10,"v":-2.8},{"state":4,"speed":10,"v":-3.7},{"state":5,"speed":10,"v":-4.3},{"state":6,"speed":10,"v":-5},{"state":7,"speed":10,"v":-5.7},{"state":8,"speed":10,"v":-6.2},{"state":9,"speed":10,"v":-6.6},{"state":10,"speed":10,"v":-7},{"state":11,"speed":10,"v":-7.4},{"state":12,"speed":10,"v":-8},{"state":13,"speed":10,"v":-8.6},{"state":14,"speed":10,"v":-8.8},{"state":15,"speed":10,"v":-9.3},{"state":16,"speed":10,"v":-15},{"state":17,"speed":10,"v":-10},{"state":18,"speed":10,"v":-10.2},{"state":19,"speed":10,"v":-10.2},{"state":20,"speed":10,"v":-11},
{"state":1,"speed":11,"v":-0.8},{"state":2,"speed":11,"v":-1.9},{"state":3,"speed":11,"v":-2.7},{"state":4,"speed":11,"v":-3.5},{"state":5,"speed":11,"v":-4.2},{"state":6,"speed":11,"v":-5},{"state":7,"speed":11,"v":-5.7},{"state":8,"speed":11,"v":-6.3},{"state":9,"speed":11,"v":-6.7},{"state":10,"speed":11,"v":-7},{"state":11,"speed":11,"v":-7.3},{"state":12,"speed":11,"v":-8},{"state":13,"speed":11,"v":-8.5},{"state":14,"speed":11,"v":-8.7},{"state":15,"speed":11,"v":-9.5},{"state":16,"speed":11,"v":-10.2},{"state":17,"speed":11,"v":-11},{"state":18,"speed":11,"v":-10.7},{"state":19,"speed":11,"v":-10.8},{"state":20,"speed":11,"v":-14.8},
{"state":1,"speed":12,"v":-3.5},{"state":2,"speed":12,"v":-3.5},{"state":3,"speed":12,"v":-4.6},{"state":4,"speed":12,"v":-4.8},{"state":5,"speed":12,"v":-5.2},{"state":6,"speed":12,"v":-5.7},{"state":7,"speed":12,"v":-6.2},{"state":8,"speed":12,"v":-6.4},{"state":9,"speed":12,"v":-6.7},{"state":10,"speed":12,"v":-7},{"state":11,"speed":12,"v":-7.5},{"state":12,"speed":12,"v":-8.2},{"state":13,"speed":12,"v":-9.3},{"state":14,"speed":12,"v":-9.2},{"state":15,"speed":12,"v":-9.5},{"state":16,"speed":12,"v":-10},{"state":17,"speed":12,"v":-15},{"state":18,"speed":12,"v":-10.3},{"state":19,"speed":12,"v":-15},{"state":20,"speed":12,"v":-11},
{"state":1,"speed":13,"v":-6.2},{"state":2,"speed":13,"v":-5.8},{"state":3,"speed":13,"v":-6.2},{"state":4,"speed":13,"v":-6.1},{"state":5,"speed":13,"v":-6.4},{"state":6,"speed":13,"v":-6.6},{"state":7,"speed":13,"v":-6.8},{"state":8,"speed":13,"v":-7},{"state":9,"speed":13,"v":-7.3},{"state":10,"speed":13,"v":-7.6},{"state":11,"speed":13,"v":-8},{"state":12,"speed":13,"v":-8.3},{"state":13,"speed":13,"v":-8.8},{"state":14,"speed":13,"v":-9.2},{"state":15,"speed":13,"v":-9.4},{"state":16,"speed":13,"v":-9.5},{"state":17,"speed":13,"v":-10},{"state":18,"speed":13,"v":-10.7},{"state":19,"speed":13,"v":-11.2},{"state":20,"speed":13,"v":-15},
{"state":1,"speed":14,"v":-7.5},{"state":2,"speed":14,"v":-7},{"state":3,"speed":14,"v":-8.2},{"state":4,"speed":14,"v":-7.2},{"state":5,"speed":14,"v":-7.2},{"state":6,"speed":14,"v":-7.3},{"state":7,"speed":14,"v":-7.5},{"state":8,"speed":14,"v":-7.5},{"state":9,"speed":14,"v":-7.8},{"state":10,"speed":14,"v":-8},{"state":11,"speed":14,"v":-8},{"state":12,"speed":14,"v":-8.3},{"state":13,"speed":14,"v":-9},{"state":14,"speed":14,"v":-11},{"state":15,"speed":14,"v":-9.5},{"state":16,"speed":14,"v":-9.7},{"state":17,"speed":14,"v":-10.2},{"state":18,"speed":14,"v":-10.2},{"state":19,"speed":14,"v":-11},{"state":20,"speed":14,"v":-15},
{"state":1,"speed":15,"v":-9},{"state":2,"speed":15,"v":-8.7},{"state":3,"speed":15,"v":-11},{"state":4,"speed":15,"v":-9.5},{"state":5,"speed":15,"v":-9},{"state":6,"speed":15,"v":-9},{"state":7,"speed":15,"v":-8.3},{"state":8,"speed":15,"v":-8.8},{"state":9,"speed":15,"v":-8},{"state":10,"speed":15,"v":-8.2},{"state":11,"speed":15,"v":-8.6},{"state":12,"speed":15,"v":-9},{"state":13,"speed":15,"v":-9.2},{"state":14,"speed":15,"v":-15},{"state":15,"speed":15,"v":-10.5},{"state":16,"speed":15,"v":-11.2},{"state":17,"speed":15,"v":-10.7},{"state":18,"speed":15,"v":-10.8},{"state":19,"speed":15,"v":-10.7},{"state":20,"speed":15,"v":-11},
{"state":1,"speed":16,"v":-9.3},{"state":2,"speed":16,"v":-9.2},{"state":3,"speed":16,"v":-11},{"state":4,"speed":16,"v":-11.5},{"state":5,"speed":16,"v":-10},{"state":6,"speed":16,"v":-10},{"state":7,"speed":16,"v":-9.8},{"state":8,"speed":16,"v":-9.2},{"state":9,"speed":16,"v":-9},{"state":10,"speed":16,"v":-9},{"state":11,"speed":16,"v":-9.2},{"state":12,"speed":16,"v":-9.2},{"state":13,"speed":16,"v":-9.5},{"state":14,"speed":16,"v":-10},{"state":15,"speed":16,"v":-11},{"state":16,"speed":16,"v":-10.2},{"state":17,"speed":16,"v":-10.8},{"state":18,"speed":16,"v":-10.7},{"state":19,"speed":16,"v":-11},{"state":20,"speed":16,"v":-15},
{"state":1,"speed":17,"v":-9.5},{"state":2,"speed":17,"v":-10.5},{"state":3,"speed":17,"v":-15},{"state":4,"speed":17,"v":-15},{"state":5,"speed":17,"v":-15},{"state":6,"speed":17,"v":-11.5},{"state":7,"speed":17,"v":-10.8},{"state":8,"speed":17,"v":-11},{"state":9,"speed":17,"v":-9.5},{"state":10,"speed":17,"v":-9.5},{"state":11,"speed":17,"v":-9.8},{"state":12,"speed":17,"v":-10},{"state":13,"speed":17,"v":-11},{"state":14,"speed":17,"v":-10.5},{"state":15,"speed":17,"v":-10.2},{"state":16,"speed":17,"v":-10.2},{"state":17,"speed":17,"v":-11.5},{"state":18,"speed":17,"v":-15},{"state":19,"speed":17,"v":-15},{"state":20,"speed":17,"v":-15},
{"state":1,"speed":18,"v":-10.8},{"state":2,"speed":18,"v":-11.3},{"state":3,"speed":18,"v":-15},{"state":4,"speed":18,"v":-15},{"state":5,"speed":18,"v":-15},{"state":6,"speed":18,"v":-15},{"state":7,"speed":18,"v":-15},{"state":8,"speed":18,"v":-15},{"state":9,"speed":18,"v":-11},{"state":10,"speed":18,"v":-11.5},{"state":11,"speed":18,"v":-10},{"state":12,"speed":18,"v":-15},{"state":13,"speed":18,"v":-11},{"state":14,"speed":18,"v":-10.5},{"state":15,"speed":18,"v":-15},{"state":16,"speed":18,"v":-10.5},{"state":17,"speed":18,"v":-15},{"state":18,"speed":18,"v":-11},{"state":19,"speed":18,"v":-15},{"state":20,"speed":18,"v":-15},
{"state":1,"speed":19,"v":-15},{"state":2,"speed":19,"v":-15},{"state":3,"speed":19,"v":-15},{"state":4,"speed":19,"v":-15},{"state":5,"speed":19,"v":-15},{"state":6,"speed":19,"v":-15},{"state":7,"speed":19,"v":-15},{"state":8,"speed":19,"v":-11.5},{"state":9,"speed":19,"v":-10.5},{"state":10,"speed":19,"v":-15},{"state":11,"speed":19,"v":-15},{"state":12,"speed":19,"v":-11},{"state":13,"speed":19,"v":-10.5},{"state":14,"speed":19,"v":-10.5},{"state":15,"speed":19,"v":-10.3},{"state":16,"speed":19,"v":-11},{"state":17,"speed":19,"v":-15},{"state":18,"speed":19,"v":-15},{"state":19,"speed":19,"v":-15},{"state":20,"speed":19,"v":-15},
{"state":1,"speed":20,"v":-15},{"state":2,"speed":20,"v":-15},{"state":3,"speed":20,"v":-15},{"state":4,"speed":20,"v":-15},{"state":5,"speed":20,"v":-15},{"state":6,"speed":20,"v":-15},{"state":7,"speed":20,"v":-15},{"state":8,"speed":20,"v":-15},{"state":9,"speed":20,"v":-15},{"state":10,"speed":20,"v":-11},{"state":11,"speed":20,"v":-15},{"state":12,"speed":20,"v":-15},{"state":13,"speed":20,"v":-15},{"state":14,"speed":20,"v":-11},{"state":15,"speed":20,"v":-10.8},{"state":16,"speed":20,"v":-15},{"state":17,"speed":20,"v":-15},{"state":18,"speed":20,"v":-15},{"state":19,"speed":20,"v":-15},{"state":20,"speed":20,"v":-15}
],
"ad":[
{"state":1,"speed":1,"v":-15},{"state":2,"speed":1,"v":-15},{"state":3,"speed":1,"v":-10.5},{"state":4,"speed":1,"v":-15},{"state":5,"speed":1,"v":-15},{"state":6,"speed":1,"v":-15},{"state":7,"speed":1,"v":-15},{"state":8,"speed":1,"v":-15},{"state":9,"speed":1,"v":-15},{"state":10,"speed":1,"v":-15},{"state":11,"speed":1,"v":-15},{"state":12,"speed":1,"v":-15},{"state":13,"speed":1,"v":-15},{"state":14,"speed":1,"v":-15},{"state":15,"speed":1,"v":-15},{"state":16,"speed":1,"v":-15},{"state":17,"speed":1,"v":-15},{"state":18,"speed":1,"v":-15},{"state":19,"speed":1,"v":-15},{"state":20,"speed":1,"v":-15},
{"state":1,"speed":2,"v":-15},{"state":2,"speed":2,"v":-15},{"state":3,"speed":2,"v":-15},{"state":4,"speed":2,"v":-15},{"state":5,"speed":2,"v":-15},{"state":6,"speed":2,"v":-15},{"state":7,"speed":2,"v":-15},{"state":8,"speed":2,"v":-15},{"state":9,"speed":2,"v":-15},{"state":10,"speed":2,"v":-15},{"state":11,"speed":2,"v":-15},{"state":12,"speed":2,"v":-15},{"state":13,"speed":2,"v":-15},{"state":14,"speed":2,"v":-15},{"state":15,"speed":2,"v":-15},{"state":16,"speed":2,"v":-15},{"state":17,"speed":2,"v":-15},{"state":18,"speed":2,"v":-15},{"state":19,"speed":2,"v":-15},{"state":20,"speed":2,"v":-15},
{"state":1,"speed":3,"v":-15},{"state":2,"speed":3,"v":-10.5},{"state":3,"speed":3,"v":-10.5},{"state":4,"speed":3,"v":-15},{"state":5,"speed":3,"v":-15},{"state":6,"speed":3,"v":-15},{"state":7,"speed":3,"v":-15},{"state":8,"speed":3,"v":-15},{"state":9,"speed":3,"v":-15},{"state":10,"speed":3,"v":-15},{"state":11,"speed":3,"v":-15},{"state":12,"speed":3,"v":-15},{"state":13,"speed":3,"v":-15},{"state":14,"speed":3,"v":-15},{"state":15,"speed":3,"v":-15},{"state":16,"speed":3,"v":-15},{"state":17,"speed":3,"v":-15},{"state":18,"speed":3,"v":-15},{"state":19,"speed":3,"v":-15},{"state":20,"speed":3,"v":-15},
{"state":1,"speed":4,"v":-15},{"state":2,"speed":4,"v":-9.5},{"state":3,"speed":4,"v":-9.5},{"state":4,"speed":4,"v":-15},{"state":5,"speed":4,"v":-15},{"state":6,"speed":4,"v":-15},{"state":7,"speed":4,"v":-15},{"state":8,"speed":4,"v":-15},{"state":9,"speed":4,"v":-15},{"state":10,"speed":4,"v":-10.5},{"state":11,"speed":4,"v":-15},{"state":12,"speed":4,"v":-10.3},{"state":13,"speed":4,"v":-15},{"state":14,"speed":4,"v":-15},{"state":15,"speed":4,"v":-15},{"state":16,"speed":4,"v":-15},{"state":17,"speed":4,"v":-15},{"state":18,"speed":4,"v":-15},{"state":19,"speed":4,"v":-15},{"state":20,"speed":4,"v":-15},
{"state":1,"speed":5,"v":-15},{"state":2,"speed":5,"v":-9.3},{"state":3,"speed":5,"v":-9.5},{"state":4,"speed":5,"v":-15},{"state":5,"speed":5,"v":-15},{"state":6,"speed":5,"v":-15},{"state":7,"speed":5,"v":-15},{"state":8,"speed":5,"v":-15},{"state":9,"speed":5,"v":-10},{"state":10,"speed":5,"v":-15},{"state":11,"speed":5,"v":-10},{"state":12,"speed":5,"v":-15},{"state":13,"speed":5,"v":-10},{"state":14,"speed":5,"v":-15},{"state":15,"speed":5,"v":-15},{"state":16,"speed":5,"v":-15},{"state":17,"speed":5,"v":-15},{"state":18,"speed":5,"v":-15},{"state":19,"speed":5,"v":-15},{"state":20,"speed":5,"v":-15},
{"state":1,"speed":6,"v":-15},{"state":2,"speed":6,"v":-8},{"state":3,"speed":6,"v":-9.2},{"state":4,"speed":6,"v":-15},{"state":5,"speed":6,"v":-15},{"state":6,"speed":6,"v":-9.5},{"state":7,"speed":6,"v":-9.3},{"state":8,"speed":6,"v":-10},{"state":9,"speed":6,"v":-10.3},{"state":10,"speed":6,"v":-10.5},{"state":11,"speed":6,"v":-15},{"state":12,"speed":6,"v":-10.5},{"state":13,"speed":6,"v":-15},{"state":14,"speed":6,"v":-15},{"state":15,"speed":6,"v":-15},{"state":16,"speed":6,"v":-15},{"state":17,"speed":6,"v":-15},{"state":18,"speed":6,"v":-15},{"state":19,"speed":6,"v":-15},{"state":20,"speed":6,"v":-15},
{"state":1,"speed":7,"v":-11},{"state":2,"speed":7,"v":-6.6},{"state":3,"speed":7,"v":-8.5},{"state":4,"speed":7,"v":-9.3},{"state":5,"speed":7,"v":-9.3},{"state":6,"speed":7,"v":-8.5},{"state":7,"speed":7,"v":-8.5},{"state":8,"speed":7,"v":-8.5},{"state":9,"speed":7,"v":-9},{"state":10,"speed":7,"v":-15},{"state":11,"speed":7,"v":-9.6},{"state":12,"speed":7,"v":-15},{"state":13,"speed":7,"v":-10.5},{"state":14,"speed":7,"v":-15},{"state":15,"speed":7,"v":-15},{"state":16,"speed":7,"v":-15},{"state":17,"speed":7,"v":-15},{"state":18,"speed":7,"v":-15},{"state":19,"speed":7,"v":-15},{"state":20,"speed":7,"v":-15},
{"state":1,"speed":8,"v":-8.2},{"state":2,"speed":8,"v":-5.5},{"state":3,"speed":8,"v":-7},{"state":4,"speed":8,"v":-7},{"state":5,"speed":8,"v":-7.5},{"state":6,"speed":8,"v":-8},{"state":7,"speed":8,"v":-8},{"state":8,"speed":8,"v":-8.2},{"state":9,"speed":8,"v":-8.5},{"state":10,"speed":8,"v":-9},{"state":11,"speed":8,"v":-9.2},{"state":12,"speed":8,"v":-10.5},{"state":13,"speed":8,"v":-10.5},{"state":14,"speed":8,"v":-15},{"state":15,"speed":8,"v":-15},{"state":16,"speed":8,"v":-15},{"state":17,"speed":8,"v":-15},{"state":18,"speed":8,"v":-15},{"state":19,"speed":8,"v":-15},{"state":20,"speed":8,"v":-15},
{"state":1,"speed":9,"v":-4.5},{"state":2,"speed":9,"v":-3.4},{"state":3,"speed":9,"v":-4.6},{"state":4,"speed":9,"v":-5.3},{"state":5,"speed":9,"v":-6},{"state":6,"speed":9,"v":-6.8},{"state":7,"speed":9,"v":-7.5},{"state":8,"speed":9,"v":-8},{"state":9,"speed":9,"v":-9},{"state":10,"speed":9,"v":-10},{"state":11,"speed":9,"v":-9.5},{"state":12,"speed":9,"v":-15},{"state":13,"speed":9,"v":-10.2},{"state":14,"speed":9,"v":-15},{"state":15,"speed":9,"v":-15},{"state":16,"speed":9,"v":-15},{"state":17,"speed":9,"v":-15},{"state":18,"speed":9,"v":-15},{"state":19,"speed":9,"v":-15},{"state":20,"speed":9,"v":-15},
{"state":1,"speed":10,"v":-0.8},{"state":2,"speed":10,"v":-2.2},{"state":3,"speed":10,"v":-2.8},{"state":4,"speed":10,"v":-4.3},{"state":5,"speed":10,"v":-5.3},{"state":6,"speed":10,"v":-7},{"state":7,"speed":10,"v":-7.5},{"state":8,"speed":10,"v":-7.8},{"state":9,"speed":10,"v":-9.3},{"state":10,"speed":10,"v":-9.7},{"state":11,"speed":10,"v":-9.3},{"state":12,"speed":10,"v":-15},{"state":13,"speed":10,"v":-15},{"state":14,"speed":10,"v":-15},{"state":15,"speed":10,"v":-15},{"state":16,"speed":10,"v":-15},{"state":17,"speed":10,"v":-15},{"state":18,"speed":10,"v":-15},{"state":19,"speed":10,"v":-15},{"state":20,"speed":10,"v":-15},
{"state":1,"speed":11,"v":-0.7},{"state":2,"speed":11,"v":-2},{"state":3,"speed":11,"v":-2.8},{"state":4,"speed":11,"v":-4.2},{"state":5,"speed":11,"v":-5.3},{"state":6,"speed":11,"v":-7},{"state":7,"speed":11,"v":-6.8},{"state":8,"speed":11,"v":-7.3},{"state":9,"speed":11,"v":-8.8},{"state":10,"speed":11,"v":-9.7},{"state":11,"speed":11,"v":-9.3},{"state":12,"speed":11,"v":-15},{"state":13,"speed":11,"v":-10.3},{"state":14,"speed":11,"v":-15},{"state":15,"speed":11,"v":-15},{"state":16,"speed":11,"v":-15},{"state":17,"speed":11,"v":-15},{"state":18,"speed":11,"v":-15},{"state":19,"speed":11,"v":-15},{"state":20,"speed":11,"v":-15},
{"state":1,"speed":12,"v":-3.2},{"state":2,"speed":12,"v":-4.2},{"state":3,"speed":12,"v":-5},{"state":4,"speed":12,"v":-5.6},{"state":5,"speed":12,"v":-6.3},{"state":6,"speed":12,"v":-7.5},{"state":7,"speed":12,"v":-7.2},{"state":8,"speed":12,"v":-7.7},{"state":9,"speed":12,"v":-8.5},{"state":10,"speed":12,"v":-9.2},{"state":11,"speed":12,"v":-9.8},{"state":12,"speed":12,"v":-15},{"state":13,"speed":12,"v":-15},{"state":14,"speed":12,"v":-15},{"state":15,"speed":12,"v":-15},{"state":16,"speed":12,"v":-15},{"state":17,"speed":12,"v":-15},{"state":18,"speed":12,"v":-15},{"state":19,"speed":12,"v":-15},{"state":20,"speed":12,"v":-15},
{"state":1,"speed":13,"v":-5.8},{"state":2,"speed":13,"v":-5.3},{"state":3,"speed":13,"v":-6.5},{"state":4,"speed":13,"v":-6.8},{"state":5,"speed":13,"v":-7},{"state":6,"speed":13,"v":-7.7},{"state":7,"speed":13,"v":-7.8},{"state":8,"speed":13,"v":-8},{"state":9,"speed":13,"v":-8.8},{"state":10,"speed":13,"v":-9.3},{"state":11,"speed":13,"v":-10},{"state":12,"speed":13,"v":-15},{"state":13,"speed":13,"v":-15},{"state":14,"speed":13,"v":-15},{"state":15,"speed":13,"v":-15},{"state":16,"speed":13,"v":-15},{"state":17,"speed":13,"v":-15},{"state":18,"speed":13,"v":-15},{"state":19,"speed":13,"v":-15},{"state":20,"speed":13,"v":-15},
{"state":1,"speed":14,"v":-7},{"state":2,"speed":14,"v":-6.8},{"state":3,"speed":14,"v":-9.3},{"state":4,"speed":14,"v":-8.8},{"state":5,"speed":14,"v":-8.3},{"state":6,"speed":14,"v":-8.7},{"state":7,"speed":14,"v":-8.3},{"state":8,"speed":14,"v":-8.7},{"state":9,"speed":14,"v":-10},{"state":10,"speed":14,"v":-15},{"state":11,"speed":14,"v":-10.3},{"state":12,"speed":14,"v":-15},{"state":13,"speed":14,"v":-10},{"state":14,"speed":14,"v":-15},{"state":15,"speed":14,"v":-15},{"state":16,"speed":14,"v":-15},{"state":17,"speed":14,"v":-15},{"state":18,"speed":14,"v":-15},{"state":19,"speed":14,"v":-15},{"state":20,"speed":14,"v":-15},
{"state":1,"speed":15,"v":-8.7},{"state":2,"speed":15,"v":-8.3},{"state":3,"speed":15,"v":-15},{"state":4,"speed":15,"v":-15},{"state":5,"speed":15,"v":-15},{"state":6,"speed":15,"v":-9.5},{"state":7,"speed":15,"v":-9.8},{"state":8,"speed":15,"v":-9.3},{"state":9,"speed":15,"v":-9.8},{"state":10,"speed":15,"v":-10.3},{"state":11,"speed":15,"v":-15},{"state":12,"speed":15,"v":-9.7},{"state":13,"speed":15,"v":-15},{"state":14,"speed":15,"v":-15},{"state":15,"speed":15,"v":-15},{"state":16,"speed":15,"v":-15},{"state":17,"speed":15,"v":-15},{"state":18,"speed":15,"v":-15},{"state":19,"speed":15,"v":-15},{"state":20,"speed":15,"v":-15},
{"state":1,"speed":16,"v":-9},{"state":2,"speed":16,"v":-9.2},{"state":3,"speed":16,"v":-15},{"state":4,"speed":16,"v":-15},{"state":5,"speed":16,"v":-15},{"state":6,"speed":16,"v":-15},{"state":7,"speed":16,"v":-15},{"state":8,"speed":16,"v":-15},{"state":9,"speed":16,"v":-10.3},{"state":10,"speed":16,"v":-10.3},{"state":11,"speed":16,"v":-10.3},{"state":12,"speed":16,"v":-10.2},{"state":13,"speed":16,"v":-15},{"state":14,"speed":16,"v":-15},{"state":15,"speed":16,"v":-15},{"state":16,"speed":16,"v":-15},{"state":17,"speed":16,"v":-15},{"state":18,"speed":16,"v":-15},{"state":19,"speed":16,"v":-15},{"state":20,"speed":16,"v":-15},
{"state":1,"speed":17,"v":-10.8},{"state":2,"speed":17,"v":-9.6},{"state":3,"speed":17,"v":-15},{"state":4,"speed":17,"v":-15},{"state":5,"speed":17,"v":-15},{"state":6,"speed":17,"v":-15},{"state":7,"speed":17,"v":-15},{"state":8,"speed":17,"v":-15},{"state":9,"speed":17,"v":-15},{"state":10,"speed":17,"v":-15},{"state":11,"speed":17,"v":-15},{"state":12,"speed":17,"v":-15},{"state":13,"speed":17,"v":-15},{"state":14,"speed":17,"v":-15},{"state":15,"speed":17,"v":-15},{"state":16,"speed":17,"v":-15},{"state":17,"speed":17,"v":-15},{"state":18,"speed":17,"v":-15},{"state":19,"speed":17,"v":-15},{"state":20,"speed":17,"v":-15},
{"state":1,"speed":18,"v":-15},{"state":2,"speed":18,"v":-9.9},{"state":3,"speed":18,"v":-15},{"state":4,"speed":18,"v":-15},{"state":5,"speed":18,"v":-15},{"state":6,"speed":18,"v":-15},{"state":7,"speed":18,"v":-15},{"state":8,"speed":18,"v":-15},{"state":9,"speed":18,"v":-15},{"state":10,"speed":18,"v":-15},{"state":11,"speed":18,"v":-15},{"state":12,"speed":18,"v":-15},{"state":13,"speed":18,"v":-15},{"state":14,"speed":18,"v":-15},{"state":15,"speed":18,"v":-15},{"state":16,"speed":18,"v":-15},{"state":17,"speed":18,"v":-15},{"state":18,"speed":18,"v":-15},{"state":19,"speed":18,"v":-15},{"state":20,"speed":18,"v":-15},
{"state":1,"speed":19,"v":-15},{"state":2,"speed":19,"v":-10.5},{"state":3,"speed":19,"v":-15},{"state":4,"speed":19,"v":-15},{"state":5,"speed":19,"v":-15},{"state":6,"speed":19,"v":-15},{"state":7,"speed":19,"v":-15},{"state":8,"speed":19,"v":-15},{"state":9,"speed":19,"v":-15},{"state":10,"speed":19,"v":-15},{"state":11,"speed":19,"v":-15},{"state":12,"speed":19,"v":-15},{"state":13,"speed":19,"v":-15},{"state":14,"speed":19,"v":-15},{"state":15,"speed":19,"v":-15},{"state":16,"speed":19,"v":-15},{"state":17,"speed":19,"v":-15},{"state":18,"speed":19,"v":-15},{"state":19,"speed":19,"v":-15},{"state":20,"speed":19,"v":-15},
{"state":1,"speed":20,"v":-15},{"state":2,"speed":20,"v":-15},{"state":3,"speed":20,"v":-15},{"state":4,"speed":20,"v":-15},{"state":5,"speed":20,"v":-15},{"state":6,"speed":20,"v":-15},{"state":7,"speed":20,"v":-15},{"state":8,"speed":20,"v":-15},{"state":9,"speed":20,"v":-15},{"state":10,"speed":20,"v":-15},{"state":11,"speed":20,"v":-15},{"state":12,"speed":20,"v":-15},{"state":13,"speed":20,"v":-15},{"state":14,"speed":20,"v":-15},{"state":15,"speed":20,"v":-15},{"state":16,"speed":20,"v":-15},{"state":17,"speed":20,"v":-15},{"state":18,"speed":20,"v":-15},{"state":19,"speed":20,"v":-15},{"state":20,"speed":20,"v":-15}
],
"neg":[
{"state":1,"speed":1,"v":-15},{"state":2,"speed":1,"v":-15},{"state":3,"speed":1,"v":-15},{"state":4,"speed":1,"v":-15},{"state":5,"speed":1,"v":-15},{"state":6,"speed":1,"v":-15},{"state":7,"speed":1,"v":-15},{"state":8,"speed":1,"v":-15},{"state":9,"speed":1,"v":-15},{"state":10,"speed":1,"v":-15},{"state":11,"speed":1,"v":-15},{"state":12,"speed":1,"v":-15},{"state":13,"speed":1,"v":-15},{"state":14,"speed":1,"v":-15},{"state":15,"speed":1,"v":-15},{"state":16,"speed":1,"v":-15},{"state":17,"speed":1,"v":-15},{"state":18,"speed":1,"v":-15},{"state":19,"speed":1,"v":-15},{"state":20,"speed":1,"v":-15},
{"state":1,"speed":2,"v":-15},{"state":2,"speed":2,"v":-15},{"state":3,"speed":2,"v":-15},{"state":4,"speed":2,"v":-15},{"state":5,"speed":2,"v":-15},{"state":6,"speed":2,"v":-15},{"state":7,"speed":2,"v":-15},{"state":8,"speed":2,"v":-15},{"state":9,"speed":2,"v":-15},{"state":10,"speed":2,"v":-15},{"state":11,"speed":2,"v":-15},{"state":12,"speed":2,"v":-15},{"state":13,"speed":2,"v":-15},{"state":14,"speed":2,"v":-15},{"state":15,"speed":2,"v":-15},{"state":16,"speed":2,"v":-15},{"state":17,"speed":2,"v":-15},{"state":18,"speed":2,"v":-15},{"state":19,"speed":2,"v":-15},{"state":20,"speed":2,"v":-15},
{"state":1,"speed":3,"v":-15},{"state":2,"speed":3,"v":-15},{"state":3,"speed":3,"v":-15},{"state":4,"speed":3,"v":-15},{"state":5,"speed":3,"v":-15},{"state":6,"speed":3,"v":-15},{"state":7,"speed":3,"v":-15},{"state":8,"speed":3,"v":-15},{"state":9,"speed":3,"v":-15},{"state":10,"speed":3,"v":-15},{"state":11,"speed":3,"v":-15},{"state":12,"speed":3,"v":-15},{"state":13,"speed":3,"v":-15},{"state":14,"speed":3,"v":-15},{"state":15,"speed":3,"v":-15},{"state":16,"speed":3,"v":-15},{"state":17,"speed":3,"v":-15},{"state":18,"speed":3,"v":-15},{"state":19,"speed":3,"v":-15},{"state":20,"speed":3,"v":-15},
{"state":1,"speed":4,"v":-15},{"state":2,"speed":4,"v":-15},{"state":3,"speed":4,"v":-15},{"state":4,"speed":4,"v":-15},{"state":5,"speed":4,"v":-15},{"state":6,"speed":4,"v":-15},{"state":7,"speed":4,"v":-15},{"state":8,"speed":4,"v":-15},{"state":9,"speed":4,"v":-15},{"state":10,"speed":4,"v":-15},{"state":11,"speed":4,"v":-15},{"state":12,"speed":4,"v":-15},{"state":13,"speed":4,"v":-15},{"state":14,"speed":4,"v":-15},{"state":15,"speed":4,"v":-15},{"state":16,"speed":4,"v":-15},{"state":17,"speed":4,"v":-15},{"state":18,"speed":4,"v":-15},{"state":19,"speed":4,"v":-15},{"state":20,"speed":4,"v":-15},
{"state":1,"speed":5,"v":-15},{"state":2,"speed":5,"v":-15},{"state":3,"speed":5,"v":-15},{"state":4,"speed":5,"v":-15},{"state":5,"speed":5,"v":-15},{"state":6,"speed":5,"v":-15},{"state":7,"speed":5,"v":-15},{"state":8,"speed":5,"v":-15},{"state":9,"speed":5,"v":-15},{"state":10,"speed":5,"v":-15},{"state":11,"speed":5,"v":-15},{"state":12,"speed":5,"v":-15},{"state":13,"speed":5,"v":-15},{"state":14,"speed":5,"v":-15},{"state":15,"speed":5,"v":-15},{"state":16,"speed":5,"v":-15},{"state":17,"speed":5,"v":-15},{"state":18,"speed":5,"v":-15},{"state":19,"speed":5,"v":-15},{"state":20,"speed":5,"v":-15},
{"state":1,"speed":6,"v":-15},{"state":2,"speed":6,"v":-15},{"state":3,"speed":6,"v":-15},{"state":4,"speed":6,"v":-15},{"state":5,"speed":6,"v":-15},{"state":6,"speed":6,"v":-15},{"state":7,"speed":6,"v":-15},{"state":8,"speed":6,"v":-15},{"state":9,"speed":6,"v":-15},{"state":10,"speed":6,"v":-15},{"state":11,"speed":6,"v":-15},{"state":12,"speed":6,"v":-15},{"state":13,"speed":6,"v":-15},{"state":14,"speed":6,"v":-15},{"state":15,"speed":6,"v":-15},{"state":16,"speed":6,"v":-15},{"state":17,"speed":6,"v":-15},{"state":18,"speed":6,"v":-15},{"state":19,"speed":6,"v":-15},{"state":20,"speed":6,"v":-15},
{"state":1,"speed":7,"v":-15},{"state":2,"speed":7,"v":-15},{"state":3,"speed":7,"v":-15},{"state":4,"speed":7,"v":-13},{"state":5,"speed":7,"v":-12.5},{"state":6,"speed":7,"v":-13},{"state":7,"speed":7,"v":-13},{"state":8,"speed":7,"v":-13.3},{"state":9,"speed":7,"v":-15},{"state":10,"speed":7,"v":-15},{"state":11,"speed":7,"v":-15},{"state":12,"speed":7,"v":-15},{"state":13,"speed":7,"v":-15},{"state":14,"speed":7,"v":-15},{"state":15,"speed":7,"v":-15},{"state":16,"speed":7,"v":-15},{"state":17,"speed":7,"v":-15},{"state":18,"speed":7,"v":-15},{"state":19,"speed":7,"v":-15},{"state":20,"speed":7,"v":-15},
{"state":1,"speed":8,"v":-15},{"state":2,"speed":8,"v":-15},{"state":3,"speed":8,"v":-12},{"state":4,"speed":8,"v":-11.5},{"state":5,"speed":8,"v":-11.5},{"state":6,"speed":8,"v":-11.5},{"state":7,"speed":8,"v":-12.2},{"state":8,"speed":8,"v":-13.5},{"state":9,"speed":8,"v":-15},{"state":10,"speed":8,"v":-15},{"state":11,"speed":8,"v":-15},{"state":12,"speed":8,"v":-15},{"state":13,"speed":8,"v":-15},{"state":14,"speed":8,"v":-15},{"state":15,"speed":8,"v":-15},{"state":16,"speed":8,"v":-15},{"state":17,"speed":8,"v":-15},{"state":18,"speed":8,"v":-15},{"state":19,"speed":8,"v":-15},{"state":20,"speed":8,"v":-15},
{"state":1,"speed":9,"v":-12.5},{"state":2,"speed":9,"v":-10},{"state":3,"speed":9,"v":-9.3},{"state":4,"speed":9,"v":-10.2},{"state":5,"speed":9,"v":-10.8},{"state":6,"speed":9,"v":-11.3},{"state":7,"speed":9,"v":-12},{"state":8,"speed":9,"v":-14},{"state":9,"speed":9,"v":-13},{"state":10,"speed":9,"v":-15},{"state":11,"speed":9,"v":-15},{"state":12,"speed":9,"v":-15},{"state":13,"speed":9,"v":-15},{"state":14,"speed":9,"v":-15},{"state":15,"speed":9,"v":-15},{"state":16,"speed":9,"v":-15},{"state":17,"speed":9,"v":-15},{"state":18,"speed":9,"v":-15},{"state":19,"speed":9,"v":-15},{"state":20,"speed":9,"v":-15},
{"state":1,"speed":10,"v":-0.6},{"state":2,"speed":10,"v":-6.8},{"state":3,"speed":10,"v":-8.8},{"state":4,"speed":10,"v":-9.8},{"state":5,"speed":10,"v":-10.3},{"state":6,"speed":10,"v":-11},{"state":7,"speed":10,"v":-14},{"state":8,"speed":10,"v":-15},{"state":9,"speed":10,"v":-13.7},{"state":10,"speed":10,"v":-15},{"state":11,"speed":10,"v":-15},{"state":12,"speed":10,"v":-15},{"state":13,"speed":10,"v":-15},{"state":14,"speed":10,"v":-15},{"state":15,"speed":10,"v":-15},{"state":16,"speed":10,"v":-15},{"state":17,"speed":10,"v":-15},{"state":18,"speed":10,"v":-15},{"state":19,"speed":10,"v":-15},{"state":20,"speed":10,"v":-15},
{"state":1,"speed":11,"v":-0.6},{"state":2,"speed":11,"v":-6.8},{"state":3,"speed":11,"v":-8.8},{"state":4,"speed":11,"v":-9.8},{"state":5,"speed":11,"v":-10.5},{"state":6,"speed":11,"v":-11.3},{"state":7,"speed":11,"v":-14},{"state":8,"speed":11,"v":-13.8},{"state":9,"speed":11,"v":-15},{"state":10,"speed":11,"v":-15},{"state":11,"speed":11,"v":-15},{"state":12,"speed":11,"v":-15},{"state":13,"speed":11,"v":-15},{"state":14,"speed":11,"v":-15},{"state":15,"speed":11,"v":-15},{"state":16,"speed":11,"v":-15},{"state":17,"speed":11,"v":-15},{"state":18,"speed":11,"v":-15},{"state":19,"speed":11,"v":-15},{"state":20,"speed":11,"v":-15},
{"state":1,"speed":12,"v":-9.7},{"state":2,"speed":12,"v":-9.5},{"state":3,"speed":12,"v":-10},{"state":4,"speed":12,"v":-10.8},{"state":5,"speed":12,"v":-11.3},{"state":6,"speed":12,"v":-12.5},{"state":7,"speed":12,"v":-14.5},{"state":8,"speed":12,"v":-15},{"state":9,"speed":12,"v":-15},{"state":10,"speed":12,"v":-15},{"state":11,"speed":12,"v":-15},{"state":12,"speed":12,"v":-15},{"state":13,"speed":12,"v":-15},{"state":14,"speed":12,"v":-15},{"state":15,"speed":12,"v":-15},{"state":16,"speed":12,"v":-15},{"state":17,"speed":12,"v":-15},{"state":18,"speed":12,"v":-15},{"state":19,"speed":12,"v":-15},{"state":20,"speed":12,"v":-15},
{"state":1,"speed":13,"v":-12.5},{"state":2,"speed":13,"v":-11.5},{"state":3,"speed":13,"v":-11},{"state":4,"speed":13,"v":-11},{"state":5,"speed":13,"v":-11.8},{"state":6,"speed":13,"v":-13},{"state":7,"speed":13,"v":-14},{"state":8,"speed":13,"v":-13.5},{"state":9,"speed":13,"v":-13.3},{"state":10,"speed":13,"v":-15},{"state":11,"speed":13,"v":-15},{"state":12,"speed":13,"v":-15},{"state":13,"speed":13,"v":-15},{"state":14,"speed":13,"v":-15},{"state":15,"speed":13,"v":-15},{"state":16,"speed":13,"v":-15},{"state":17,"speed":13,"v":-15},{"state":18,"speed":13,"v":-15},{"state":19,"speed":13,"v":-15},{"state":20,"speed":13,"v":-15},
{"state":1,"speed":14,"v":-14.5},{"state":2,"speed":14,"v":-13.5},{"state":3,"speed":14,"v":-12},{"state":4,"speed":14,"v":-12.3},{"state":5,"speed":14,"v":-13.5},{"state":6,"speed":14,"v":-14.5},{"state":7,"speed":14,"v":-15},{"state":8,"speed":14,"v":-15},{"state":9,"speed":14,"v":-15},{"state":10,"speed":14,"v":-15},{"state":11,"speed":14,"v":-15},{"state":12,"speed":14,"v":-15},{"state":13,"speed":14,"v":-15},{"state":14,"speed":14,"v":-15},{"state":15,"speed":14,"v":-15},{"state":16,"speed":14,"v":-15},{"state":17,"speed":14,"v":-15},{"state":18,"speed":14,"v":-15},{"state":19,"speed":14,"v":-15},{"state":20,"speed":14,"v":-15},
{"state":1,"speed":15,"v":-15},{"state":2,"speed":15,"v":-15},{"state":3,"speed":15,"v":-13.5},{"state":4,"speed":15,"v":-13.7},{"state":5,"speed":15,"v":-13.8},{"state":6,"speed":15,"v":-13.5},{"state":7,"speed":15,"v":-15},{"state":8,"speed":15,"v":-15},{"state":9,"speed":15,"v":-15},{"state":10,"speed":15,"v":-15},{"state":11,"speed":15,"v":-15},{"state":12,"speed":15,"v":-15},{"state":13,"speed":15,"v":-15},{"state":14,"speed":15,"v":-15},{"state":15,"speed":15,"v":-15},{"state":16,"speed":15,"v":-15},{"state":17,"speed":15,"v":-15},{"state":18,"speed":15,"v":-15},{"state":19,"speed":15,"v":-15},{"state":20,"speed":15,"v":-15},
{"state":1,"speed":16,"v":-15},{"state":2,"speed":16,"v":-15},{"state":3,"speed":16,"v":-15},{"state":4,"speed":16,"v":-15},{"state":5,"speed":16,"v":-15},{"state":6,"speed":16,"v":-15},{"state":7,"speed":16,"v":-15},{"state":8,"speed":16,"v":-15},{"state":9,"speed":16,"v":-15},{"state":10,"speed":16,"v":-15},{"state":11,"speed":16,"v":-15},{"state":12,"speed":16,"v":-15},{"state":13,"speed":16,"v":-15},{"state":14,"speed":16,"v":-15},{"state":15,"speed":16,"v":-15},{"state":16,"speed":16,"v":-15},{"state":17,"speed":16,"v":-15},{"state":18,"speed":16,"v":-15},{"state":19,"speed":16,"v":-15},{"state":20,"speed":16,"v":-15},
{"state":1,"speed":17,"v":-15},{"state":2,"speed":17,"v":-15},{"state":3,"speed":17,"v":-15},{"state":4,"speed":17,"v":-15},{"state":5,"speed":17,"v":-15},{"state":6,"speed":17,"v":-15},{"state":7,"speed":17,"v":-15},{"state":8,"speed":17,"v":-15},{"state":9,"speed":17,"v":-15},{"state":10,"speed":17,"v":-15},{"state":11,"speed":17,"v":-15},{"state":12,"speed":17,"v":-15},{"state":13,"speed":17,"v":-15},{"state":14,"speed":17,"v":-15},{"state":15,"speed":17,"v":-15},{"state":16,"speed":17,"v":-15},{"state":17,"speed":17,"v":-15},{"state":18,"speed":17,"v":-15},{"state":19,"speed":17,"v":-15},{"state":20,"speed":17,"v":-15},
{"state":1,"speed":18,"v":-15},{"state":2,"speed":18,"v":-15},{"state":3,"speed":18,"v":-15},{"state":4,"speed":18,"v":-15},{"state":5,"speed":18,"v":-15},{"state":6,"speed":18,"v":-15},{"state":7,"speed":18,"v":-15},{"state":8,"speed":18,"v":-15},{"state":9,"speed":18,"v":-15},{"state":10,"speed":18,"v":-15},{"state":11,"speed":18,"v":-15},{"state":12,"speed":18,"v":-15},{"state":13,"speed":18,"v":-15},{"state":14,"speed":18,"v":-15},{"state":15,"speed":18,"v":-15},{"state":16,"speed":18,"v":-15},{"state":17,"speed":18,"v":-15},{"state":18,"speed":18,"v":-15},{"state":19,"speed":18,"v":-15},{"state":20,"speed":18,"v":-15},
{"state":1,"speed":19,"v":-15},{"state":2,"speed":19,"v":-15},{"state":3,"speed":19,"v":-15},{"state":4,"speed":19,"v":-15},{"state":5,"speed":19,"v":-15},{"state":6,"speed":19,"v":-15},{"state":7,"speed":19,"v":-15},{"state":8,"speed":19,"v":-15},{"state":9,"speed":19,"v":-15},{"state":10,"speed":19,"v":-15},{"state":11,"speed":19,"v":-15},{"state":12,"speed":19,"v":-15},{"state":13,"speed":19,"v":-15},{"state":14,"speed":19,"v":-15},{"state":15,"speed":19,"v":-15},{"state":16,"speed":19,"v":-15},{"state":17,"speed":19,"v":-15},{"state":18,"speed":19,"v":-15},{"state":19,"speed":19,"v":-15},{"state":20,"speed":19,"v":-15},
{"state":1,"speed":20,"v":-15},{"state":2,"speed":20,"v":-15},{"state":3,"speed":20,"v":-15},{"state":4,"speed":20,"v":-15},{"state":5,"speed":20,"v":-15},{"state":6,"speed":20,"v":-15},{"state":7,"speed":20,"v":-15},{"state":8,"speed":20,"v":-15},{"state":9,"speed":20,"v":-15},{"state":10,"speed":20,"v":-15},{"state":11,"speed":20,"v":-15},{"state":12,"speed":20,"v":-15},{"state":13,"speed":20,"v":-15},{"state":14,"speed":20,"v":-15},{"state":15,"speed":20,"v":-15},{"state":16,"speed":20,"v":-15},{"state":17,"speed":20,"v":-15},{"state":18,"speed":20,"v":-15},{"state":19,"speed":20,"v":-15},{"state":20,"speed":20,"v":-15}
],
"pos":[
{"state":1,"speed":1,"v":-15},{"state":2,"speed":1,"v":-15},{"state":3,"speed":1,"v":-15},{"state":4,"speed":1,"v":-11.5},{"state":5,"speed":1,"v":-15},{"state":6,"speed":1,"v":-15},{"state":7,"speed":1,"v":-15},{"state":8,"speed":1,"v":-15},{"state":9,"speed":1,"v":-15},{"state":10,"speed":1,"v":-15},{"state":11,"speed":1,"v":-15},{"state":12,"speed":1,"v":-11.5},{"state":13,"speed":1,"v":-15},{"state":14,"speed":1,"v":-11.5},{"state":15,"speed":1,"v":-15},{"state":16,"speed":1,"v":-15},{"state":17,"speed":1,"v":-15},{"state":18,"speed":1,"v":-15},{"state":19,"speed":1,"v":-15},{"state":20,"speed":1,"v":-15},
{"state":1,"speed":2,"v":-15},{"state":2,"speed":2,"v":-11.5},{"state":3,"speed":2,"v":-11.2},{"state":4,"speed":2,"v":-15},{"state":5,"speed":2,"v":-15},{"state":6,"speed":2,"v":-15},{"state":7,"speed":2,"v":-15},{"state":8,"speed":2,"v":-15},{"state":9,"speed":2,"v":-15},{"state":10,"speed":2,"v":-15},{"state":11,"speed":2,"v":-11.5},{"state":12,"speed":2,"v":-10.5},{"state":13,"speed":2,"v":-10.3},{"state":14,"speed":2,"v":-15},{"state":15,"speed":2,"v":-15},{"state":16,"speed":2,"v":-11.3},{"state":17,"speed":2,"v":-11},{"state":18,"speed":2,"v":-15},{"state":19,"speed":2,"v":-15},{"state":20,"speed":2,"v":-15},
{"state":1,"speed":3,"v":-15},{"state":2,"speed":3,"v":-15},{"state":3,"speed":3,"v":-15},{"state":4,"speed":3,"v":-15},{"state":5,"speed":3,"v":-15},{"state":6,"speed":3,"v":-15},{"state":7,"speed":3,"v":-15},{"state":8,"speed":3,"v":-15},{"state":9,"speed":3,"v":-11.3},{"state":10,"speed":3,"v":-11.3},{"state":11,"speed":3,"v":-15},{"state":12,"speed":3,"v":-10.5},{"state":13,"speed":3,"v":-11},{"state":14,"speed":3,"v":-10.3},{"state":15,"speed":3,"v":-10},{"state":16,"speed":3,"v":-11},{"state":17,"speed":3,"v":-10.2},{"state":18,"speed":3,"v":-10.8},{"state":19,"speed":3,"v":-15},{"state":20,"speed":3,"v":-15},
{"state":1,"speed":4,"v":-15},{"state":2,"speed":4,"v":-10.8},{"state":3,"speed":4,"v":-10.8},{"state":4,"speed":4,"v":-15},{"state":5,"speed":4,"v":-15},{"state":6,"speed":4,"v":-15},{"state":7,"speed":4,"v":-10.6},{"state":8,"speed":4,"v":-9.7},{"state":9,"speed":4,"v":-9.5},{"state":10,"speed":4,"v":-9.3},{"state":11,"speed":4,"v":-9.2},{"state":12,"speed":4,"v":-9.7},{"state":13,"speed":4,"v":-9.8},{"state":14,"speed":4,"v":-10.2},{"state":15,"speed":4,"v":-15},{"state":16,"speed":4,"v":-10},{"state":17,"speed":4,"v":-10},{"state":18,"speed":4,"v":-9.8},{"state":19,"speed":4,"v":-11},{"state":20,"speed":4,"v":-15},
{"state":1,"speed":5,"v":-15},{"state":2,"speed":5,"v":-9},{"state":3,"speed":5,"v":-15},{"state":4,"speed":5,"v":-15},{"state":5,"speed":5,"v":-11},{"state":6,"speed":5,"v":-9.8},{"state":7,"speed":5,"v":-9.3},{"state":8,"speed":5,"v":-9},{"state":9,"speed":5,"v":-8.8},{"state":10,"speed":5,"v":-9.2},{"state":11,"speed":5,"v":-9.3},{"state":12,"speed":5,"v":-10},{"state":13,"speed":5,"v":-10},{"state":14,"speed":5,"v":-10.3},{"state":15,"speed":5,"v":-10.5},{"state":16,"speed":5,"v":-10.3},{"state":17,"speed":5,"v":-11},{"state":18,"speed":5,"v":-10.2},{"state":19,"speed":5,"v":-15},{"state":20,"speed":5,"v":-11},
{"state":1,"speed":6,"v":-15},{"state":2,"speed":6,"v":-8.5},{"state":3,"speed":6,"v":-9.6},{"state":4,"speed":6,"v":-9.6},{"state":5,"speed":6,"v":-9.2},{"state":6,"speed":6,"v":-9},{"state":7,"speed":6,"v":-8.3},{"state":8,"speed":6,"v":-8.3},{"state":9,"speed":6,"v":-8.3},{"state":10,"speed":6,"v":-8.5},{"state":11,"speed":6,"v":-8.2},{"state":12,"speed":6,"v":-8.8},{"state":13,"speed":6,"v":-9},{"state":14,"speed":6,"v":-9.5},{"state":15,"speed":6,"v":-9.7},{"state":16,"speed":6,"v":-10},{"state":17,"speed":6,"v":-11},{"state":18,"speed":6,"v":-11},{"state":19,"speed":6,"v":-9.5},{"state":20,"speed":6,"v":-15},
{"state":1,"speed":7,"v":-15},{"state":2,"speed":7,"v":-6.7},{"state":3,"speed":7,"v":-8},{"state":4,"speed":7,"v":-8},{"state":5,"speed":7,"v":-7.8},{"state":6,"speed":7,"v":-7.5},{"state":7,"speed":7,"v":-7.3},{"state":8,"speed":7,"v":-7.2},{"state":9,"speed":7,"v":-7.4},{"state":10,"speed":7,"v":-7.5},{"state":11,"speed":7,"v":-8},{"state":12,"speed":7,"v":-8.1},{"state":13,"speed":7,"v":-8.5},{"state":14,"speed":7,"v":-8.9},{"state":15,"speed":7,"v":-9.3},{"state":16,"speed":7,"v":-9.2},{"state":17,"speed":7,"v":-9.7},{"state":18,"speed":7,"v":-10.3},{"state":19,"speed":7,"v":-15},{"state":20,"speed":7,"v":-11},
{"state":1,"speed":8,"v":-8},{"state":2,"speed":8,"v":-5.3},{"state":3,"speed":8,"v":-6.5},{"state":4,"speed":8,"v":-6},{"state":5,"speed":8,"v":-5.5},{"state":6,"speed":8,"v":-5.8},{"state":7,"speed":8,"v":-6.2},{"state":8,"speed":8,"v":-6.4},{"state":9,"speed":8,"v":-6.6},{"state":10,"speed":8,"v":-7.1},{"state":11,"speed":8,"v":-7},{"state":12,"speed":8,"v":-7.7},{"state":13,"speed":8,"v":-8},{"state":14,"speed":8,"v":-8.8},{"state":15,"speed":8,"v":-10.5},{"state":16,"speed":8,"v":-10},{"state":17,"speed":8,"v":-11},{"state":18,"speed":8,"v":-10.5},{"state":19,"speed":8,"v":-11.3},{"state":20,"speed":8,"v":-15},
{"state":1,"speed":9,"v":-4.7},{"state":2,"speed":9,"v":-3.5},{"state":3,"speed":9,"v":-3.7},{"state":4,"speed":9,"v":-4.4},{"state":5,"speed":9,"v":-5.2},{"state":6,"speed":9,"v":-5.3},{"state":7,"speed":9,"v":-5.9},{"state":8,"speed":9,"v":-6.1},{"state":9,"speed":9,"v":-6.6},{"state":10,"speed":9,"v":-7},{"state":11,"speed":9,"v":-7.3},{"state":12,"speed":9,"v":-7.8},{"state":13,"speed":9,"v":-8.3},{"state":14,"speed":9,"v":-8.7},{"state":15,"speed":9,"v":-11},{"state":16,"speed":9,"v":-9.5},{"state":17,"speed":9,"v":-10.2},{"state":18,"speed":9,"v":-10},{"state":19,"speed":9,"v":-15},{"state":20,"speed":9,"v":-15},
{"state":1,"speed":10,"v":-0.8},{"state":2,"speed":10,"v":-2.1},{"state":3,"speed":10,"v":-2.7},{"state":4,"speed":10,"v":-3.6},{"state":5,"speed":10,"v":-4.5},{"state":6,"speed":10,"v":-5.3},{"state":7,"speed":10,"v":-6.3},{"state":8,"speed":10,"v":-6.4},{"state":9,"speed":10,"v":-6.7},{"state":10,"speed":10,"v":-7},{"state":11,"speed":10,"v":-7.4},{"state":12,"speed":10,"v":-7.9},{"state":13,"speed":10,"v":-8.4},{"state":14,"speed":10,"v":-8.8},{"state":15,"speed":10,"v":-9.2},{"state":16,"speed":10,"v":-15},{"state":17,"speed":10,"v":-9.8},{"state":18,"speed":10,"v":-10},{"state":19,"speed":10,"v":-10.2},{"state":20,"speed":10,"v":-11},
{"state":1,"speed":11,"v":-0.7},{"state":2,"speed":11,"v":-1.9},{"state":3,"speed":11,"v":-2.6},{"state":4,"speed":11,"v":-3.6},{"state":5,"speed":11,"v":-4.5},{"state":6,"speed":11,"v":-5.2},{"state":7,"speed":11,"v":-6.3},{"state":8,"speed":11,"v":-6.4},{"state":9,"speed":11,"v":-6.7},{"state":10,"speed":11,"v":-7.1},{"state":11,"speed":11,"v":-7.4},{"state":12,"speed":11,"v":-7.9},{"state":13,"speed":11,"v":-8.5},{"state":14,"speed":11,"v":-8.8},{"state":15,"speed":11,"v":-9.5},{"state":16,"speed":11,"v":-10},{"state":17,"speed":11,"v":-11},{"state":18,"speed":11,"v":-10.3},{"state":19,"speed":11,"v":-10.6},{"state":20,"speed":11,"v":-15},
{"state":1,"speed":12,"v":-3.7},{"state":2,"speed":12,"v":-3.6},{"state":3,"speed":12,"v":-4.6},{"state":4,"speed":12,"v":-4.7},{"state":5,"speed":12,"v":-5.3},{"state":6,"speed":12,"v":-5.5},{"state":7,"speed":12,"v":-6.2},{"state":8,"speed":12,"v":-6.5},{"state":9,"speed":12,"v":-6.7},{"state":10,"speed":12,"v":-7.2},{"state":11,"speed":12,"v":-7.6},{"state":12,"speed":12,"v":-8},{"state":13,"speed":12,"v":-8.8},{"state":14,"speed":12,"v":-9},{"state":15,"speed":12,"v":-9.4},{"state":16,"speed":12,"v":-10},{"state":17,"speed":12,"v":-15},{"state":18,"speed":12,"v":-9.8},{"state":19,"speed":12,"v":-15},{"state":20,"speed":12,"v":-11},
{"state":1,"speed":13,"v":-6.2},{"state":2,"speed":13,"v":-5.7},{"state":3,"speed":13,"v":-6},{"state":4,"speed":13,"v":-6.1},{"state":5,"speed":13,"v":-6.3},{"state":6,"speed":13,"v":-6.5},{"state":7,"speed":13,"v":-6.8},{"state":8,"speed":13,"v":-7},{"state":9,"speed":13,"v":-7.2},{"state":10,"speed":13,"v":-7.6},{"state":11,"speed":13,"v":-7.9},{"state":12,"speed":13,"v":-8.2},{"state":13,"speed":13,"v":-8.7},{"state":14,"speed":13,"v":-9},{"state":15,"speed":13,"v":-9.4},{"state":16,"speed":13,"v":-9.8},{"state":17,"speed":13,"v":-9.6},{"state":18,"speed":13,"v":-10.5},{"state":19,"speed":13,"v":-11},{"state":20,"speed":13,"v":-15},
{"state":1,"speed":14,"v":-7.6},{"state":2,"speed":14,"v":-7.3},{"state":3,"speed":14,"v":-8.2},{"state":4,"speed":14,"v":-7.6},{"state":5,"speed":14,"v":-7.5},{"state":6,"speed":14,"v":-7.6},{"state":7,"speed":14,"v":-7.5},{"state":8,"speed":14,"v":-7.6},{"state":9,"speed":14,"v":-7.8},{"state":10,"speed":14,"v":-8.2},{"state":11,"speed":14,"v":-8},{"state":12,"speed":14,"v":-8.3},{"state":13,"speed":14,"v":-8.5},{"state":14,"speed":14,"v":-10.8},{"state":15,"speed":14,"v":-9.6},{"state":16,"speed":14,"v":-9.5},{"state":17,"speed":14,"v":-9.3},{"state":18,"speed":14,"v":-9.7},{"state":19,"speed":14,"v":-11},{"state":20,"speed":14,"v":-15},
{"state":1,"speed":15,"v":-8.6},{"state":2,"speed":15,"v":-8.8},{"state":3,"speed":15,"v":-10.5},{"state":4,"speed":15,"v":-9.2},{"state":5,"speed":15,"v":-8.5},{"state":6,"speed":15,"v":-8.4},{"state":7,"speed":15,"v":-7.8},{"state":8,"speed":15,"v":-8.3},{"state":9,"speed":15,"v":-8},{"state":10,"speed":15,"v":-8.4},{"state":11,"speed":15,"v":-8.6},{"state":12,"speed":15,"v":-8.9},{"state":13,"speed":15,"v":-9},{"state":14,"speed":15,"v":-15},{"state":15,"speed":15,"v":-9.8},{"state":16,"speed":15,"v":-10.8},{"state":17,"speed":15,"v":-10.3},{"state":18,"speed":15,"v":-10.5},{"state":19,"speed":15,"v":-10.3},{"state":20,"speed":15,"v":-10.8},
{"state":1,"speed":16,"v":-9.3},{"state":2,"speed":16,"v":-9.3},{"state":3,"speed":16,"v":-11},{"state":4,"speed":16,"v":-11},{"state":5,"speed":16,"v":-9.7},{"state":6,"speed":16,"v":-9.5},{"state":7,"speed":16,"v":-9.2},{"state":8,"speed":16,"v":-9.2},{"state":9,"speed":16,"v":-8.7},{"state":10,"speed":16,"v":-8.7},{"state":11,"speed":16,"v":-9},{"state":12,"speed":16,"v":-9},{"state":13,"speed":16,"v":-9.3},{"state":14,"speed":16,"v":-9.8},{"state":15,"speed":16,"v":-10.6},{"state":16,"speed":16,"v":-10},{"state":17,"speed":16,"v":-10.5},{"state":18,"speed":16,"v":-10.5},{"state":19,"speed":16,"v":-10.8},{"state":20,"speed":16,"v":-15},
{"state":1,"speed":17,"v":-9.6},{"state":2,"speed":17,"v":-10.6},{"state":3,"speed":17,"v":-15},{"state":4,"speed":17,"v":-15},{"state":5,"speed":17,"v":-15},{"state":6,"speed":17,"v":-11.3},{"state":7,"speed":17,"v":-10.8},{"state":8,"speed":17,"v":-10},{"state":9,"speed":17,"v":-9.6},{"state":10,"speed":17,"v":-9.5},{"state":11,"speed":17,"v":-9.7},{"state":12,"speed":17,"v":-9.8},{"state":13,"speed":17,"v":-10.3},{"state":14,"speed":17,"v":-10.2},{"state":15,"speed":17,"v":-10.3},{"state":16,"speed":17,"v":-10},{"state":17,"speed":17,"v":-11},{"state":18,"speed":17,"v":-15},{"state":19,"speed":17,"v":-15},{"state":20,"speed":17,"v":-15},
{"state":1,"speed":18,"v":-10.6},{"state":2,"speed":18,"v":-11.2},{"state":3,"speed":18,"v":-15},{"state":4,"speed":18,"v":-15},{"state":5,"speed":18,"v":-15},{"state":6,"speed":18,"v":-15},{"state":7,"speed":18,"v":-15},{"state":8,"speed":18,"v":-15},{"state":9,"speed":18,"v":-11},{"state":10,"speed":18,"v":-11},{"state":11,"speed":18,"v":-10},{"state":12,"speed":18,"v":-15},{"state":13,"speed":18,"v":-11},{"state":14,"speed":18,"v":-10.5},{"state":15,"speed":18,"v":-15},{"state":16,"speed":18,"v":-10.5},{"state":17,"speed":18,"v":-15},{"state":18,"speed":18,"v":-11},{"state":19,"speed":18,"v":-15},{"state":20,"speed":18,"v":-15},
{"state":1,"speed":19,"v":-15},{"state":2,"speed":19,"v":-15},{"state":3,"speed":19,"v":-15},{"state":4,"speed":19,"v":-15},{"state":5,"speed":19,"v":-15},{"state":6,"speed":19,"v":-15},{"state":7,"speed":19,"v":-15},{"state":8,"speed":19,"v":-11},{"state":9,"speed":19,"v":-10.8},{"state":10,"speed":19,"v":-15},{"state":11,"speed":19,"v":-15},{"state":12,"speed":19,"v":-11},{"state":13,"speed":19,"v":-10.5},{"state":14,"speed":19,"v":-10.3},{"state":15,"speed":19,"v":-10.2},{"state":16,"speed":19,"v":-10.8},{"state":17,"speed":19,"v":-15},{"state":18,"speed":19,"v":-15},{"state":19,"speed":19,"v":-15},{"state":20,"speed":19,"v":-15},
{"state":1,"speed":20,"v":-15},{"state":2,"speed":20,"v":-15},{"state":3,"speed":20,"v":-15},{"state":4,"speed":20,"v":-15},{"state":5,"speed":20,"v":-15},{"state":6,"speed":20,"v":-15},{"state":7,"speed":20,"v":-15},{"state":8,"speed":20,"v":-15},{"state":9,"speed":20,"v":-15},{"state":10,"speed":20,"v":-11},{"state":11,"speed":20,"v":-15},{"state":12,"speed":20,"v":-15},{"state":13,"speed":20,"v":-15},{"state":14,"speed":20,"v":-11},{"state":15,"speed":20,"v":-10.7},{"state":16,"speed":20,"v":-15},{"state":17,"speed":20,"v":-15},{"state":18,"speed":20,"v":-15},{"state":19,"speed":20,"v":-15},{"state":20,"speed":20,"v":-15}
]
},"bounds":"flush","spacing":272.5,"resolve":{"scale":{"color":"independent"},"legend":{"color":"independent"}},"vconcat":[
{"bounds":"flush","spacing":120,"resolve":{"scale":{"color":"independent"},"legend":{"color":"independent"}},"hconcat":[
{"title":"low WM","width":276,"height":184,"data":{"name":"low"},"mark":"rect","encoding":{"x":{"field":"state","type":"ordinal","axis":{"title":"state","titleFont":"Liberation Sans","titleFontSize":12,"titlePadding":49}},"y":{"field":"speed","type":"ordinal","axis":{"title":"speed","titleFont":"DejaVu Sans","titleFontSize":16,"titlePadding":14}},"color":{"field":"v","type":"quantitative","legend":{"title":null,"values":[-15,-10,-5],"labelExpr":"'-'+abs(datum.value)"},"scale":{"interpolate":"rgb","domain":[-15.2,-14.17,-12.99,-11.36,-9.74,-8.27,-6.65,-5.02,-3.7,-2.37,-0.45],"range":["#3c2a9c","#4440d8","#3f62fb","#2a85f5","#1fa8dc","#0bb8b8","#3cc88e","#85c85e","#c8bb3a","#fdba38","#f9fb15"]}}}},
{"title":"high WM","width":276,"height":184,"data":{"name":"high"},"mark":"rect","encoding":{"x":{"field":"state","type":"ordinal","axis":{"title":"state","titleFont":"Liberation Sans","titleFontSize":12,"titlePadding":49}},"y":{"field":"speed","type":"ordinal","axis":{"title":"speed","titleFont":"DejaVu Sans","titleFontSize":16,"titlePadding":14}},"color":{"field":"v","type":"quantitative","legend":{"title":null,"values":[-15,-10,-5],"labelExpr":"'-'+abs(datum.value)"},"scale":{"interpolate":"rgb","domain":[-15.2,-14.17,-12.99,-11.36,-9.74,-8.27,-6.65,-5.02,-3.7,-2.37,-0.45],"range":["#3c2a9c","#4440d8","#3f62fb","#2a85f5","#1fa8dc","#0bb8b8","#3cc88e","#85c85e","#c8bb3a","#fdba38","#f9fb15"]}}}}]},
{"bounds":"flush","spacing":120,"resolve":{"scale":{"color":"independent"},"legend":{"color":"independent"}},"hconcat":[
{"title":"control","width":276,"height":184,"data":{"name":"control"},"mark":"rect","encoding":{"x":{"field":"state","type":"ordinal","axis":{"title":"state","titleFont":"Liberation Sans","titleFontSize":12,"titlePadding":49}},"y":{"field":"speed","type":"ordinal","axis":{"title":"speed","titleFont":"DejaVu Sans","titleFontSize":16,"titlePadding":14}},"color":{"field":"v","type":"quantitative","legend":{"title":null,"values":[-15,-10,-5],"labelExpr":"'-'+abs(datum.value)"},"scale":{"interpolate":"rgb","domain":[-15.2,-14.17,-12.99,-11.36,-9.74,-8.27,-6.65,-5.02,-3.7,-2.37,-0.45],"range":["#3c2a9c","#4440d8","#3f62fb","#2a85f5","#1fa8dc","#0bb8b8","#3cc88e","#85c85e","#c8bb3a","#fdba38","#f9fb15"]}}}},
{"title":"AD","width":276,"height":184,"data":{"name":"ad"},"mark":"rect","encoding":{"x":{"field":"state","type":"ordinal","axis":{"title":"state","titleFont":"Liberation Sans","titleFontSize":12,"titlePadding":49}},"y":{"field":"speed","type":"ordinal","axis":{"title":"speed","titleFont":"DejaVu Sans","titleFontSize":16,"titlePadding":14}},"color":{"field":"v","type":"quantitative","legend":{"title":null,"values":[-15,-10,-5],"labelExpr":"'-'+abs(datum.value)"},"scale":{"interpolate":"rgb","domain":[-15.2,-14.17,-12.99,-11.36,-9.74,-8.27,-6.65,-5.02,-3.7,-2.37,-0.45],"range":["#3c2a9c","#4440d8","#3f62fb","#2a85f5","#1fa8dc","#0bb8b8","#3cc88e","#85c85e","#c8bb3a","#fdba38","#f9fb15"]}}}}]},
{"bounds":"flush","spacing":120,"resolve":{"scale":{"color":"independent"},"legend":{"color":"independent"}},"hconcat":[
{"title":"negative valence","width":276,"height":184,"data":{"name":"neg"},"mark":"rect","encoding":{"x":{"field":"state","type":"ordinal","axis":{"title":"state","titleFont":"Liberation Sans","titleFontSize":12,"titlePadding":49}},"y":{"field":"speed","type":"ordinal","axis":{"title":"speed","titleFont":"DejaVu Sans","titleFontSize":16,"titlePadding":14}},"color":{"field":"v","type":"quantitative","legend":{"title":null,"values":[-15,-10,-5],"labelExpr":"'-'+abs(datum.value)"},"scale":{"interpolate":"rgb","domain":[-15.2,-14.17,-12.99,-11.36,-9.74,-8.27,-6.65,-5.02,-3.7,-2.37,-0.45],"range":["#3c2a9c","#4440d8","#3f62fb","#2a85f5","#1fa8dc","#0bb8b8","#3cc88e","#85c85e","#c8bb3a","#fdba38","#f9fb15"]}}}},
{"title":"positive valence","width":276,"height":184,"data":{"name":"pos"},"mark":"rect","encoding":{"x":{"field":"state","type":"ordinal","axis":{"title":"state","titleFont":"Liberation Sans","titleFontSize":12,"titlePadding":49}},"y":{"field":"speed","type":"ordinal","axis":{"title":"speed","titleFont":"DejaVu Sans","titleFontSize":16,"titlePadding":14}},"color":{"field":"v","type":"quantitative","legend":{"title":null,"values":[-15,-10,-5],"labelExpr":"'-'+abs(datum.value)"},"scale":{"interpolate":"rgb","domain":[-15.2,-14.17,-12.99,-11.36,-9.74,-8.27,-6.65,-5.02,-3.7,-2.37,-0.45],"range":["#3c2a9c","#4440d8","#3f62fb","#2a85f5","#1fa8dc","#0bb8b8","#3cc88e","#85c85e","#c8bb3a","#fdba38","#f9fb15"]}}}}]}
]}
